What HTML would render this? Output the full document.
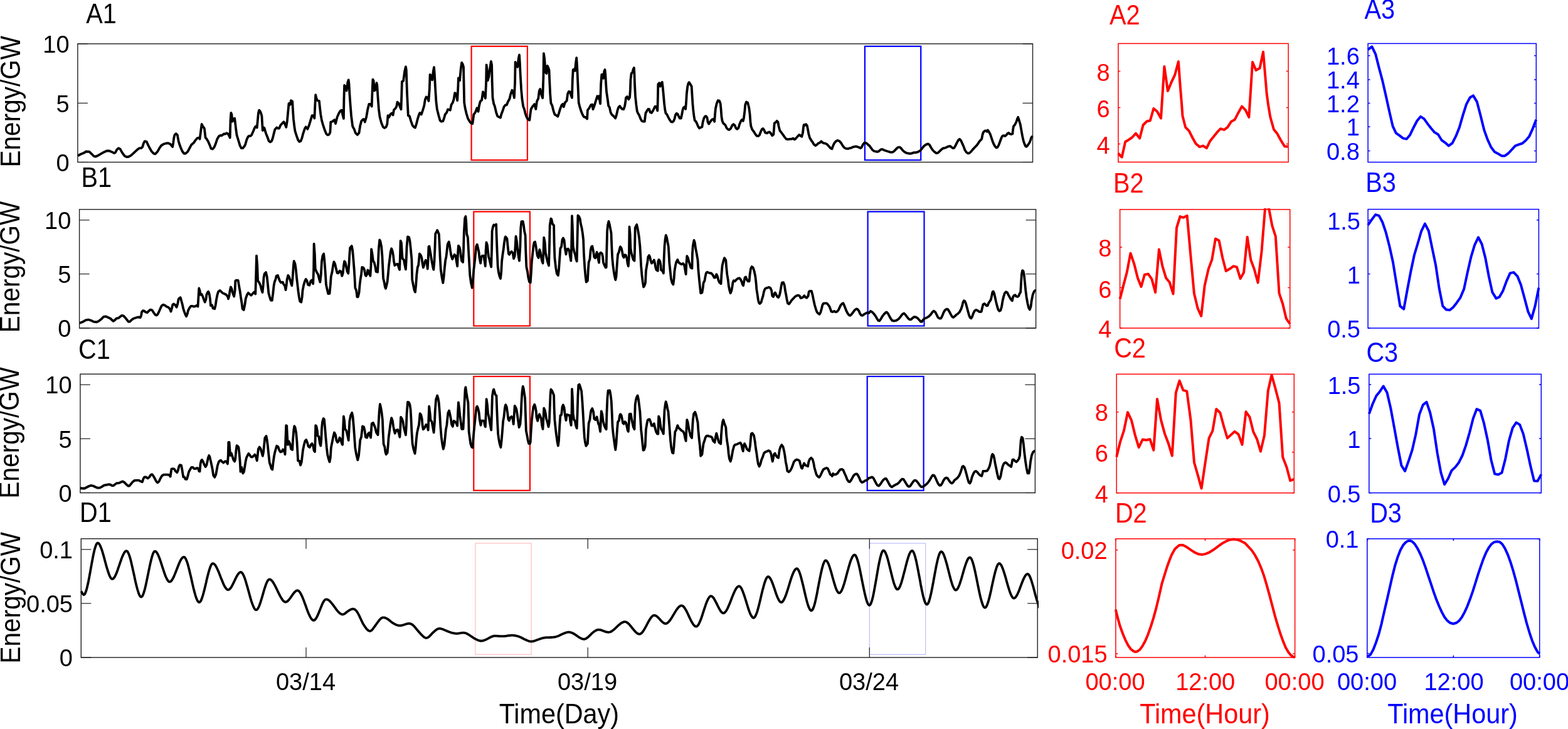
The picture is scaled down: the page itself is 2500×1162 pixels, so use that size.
<!DOCTYPE html>
<html lang="en"><head><meta charset="utf-8"><title>Energy time series</title>
<style>html,body{margin:0;padding:0;background:#fff;}body{width:2500px;height:1162px;overflow:hidden;}svg{display:block;font-family:"Liberation Sans",sans-serif;}</style>
</head><body>
<svg xmlns="http://www.w3.org/2000/svg" width="2500" height="1162" viewBox="0 0 2500 1162">
<rect x="0" y="0" width="2500" height="1162" fill="#ffffff"/>
<g id="panel-A1">
<clipPath id="clipA1"><rect x="122.10" y="68.00" width="1526.20" height="192.30"/></clipPath>
<rect x="751.6" y="73.8" width="89.30" height="181.40" fill="#ffffff" stroke="#ff0000" stroke-width="2.2"/>
<rect x="1378.9" y="73.8" width="89.30" height="181.40" fill="#ffffff" stroke="#0000ff" stroke-width="2.2"/>
<polyline points="124.0,248.3 128.8,245.8 133.1,244.1 137.4,241.5 142.5,241.9 146.0,245.3 149.4,248.8 152.0,249.6 155.5,248.4 160.6,245.3 165.8,242.4 170.1,240.5 174.4,240.5 177.8,241.9 182.1,244.1 183.9,243.1 186.4,238.4 189.0,236.2 191.6,237.6 195.0,243.6 198.5,248.4 201.1,250.0 204.5,250.0 208.8,247.9 214.0,243.1 219.1,238.4 222.1,236.2 225.2,236.2 227.2,234.1 229.0,228.1 230.7,225.2 233.8,225.9 235.5,229.8 238.1,235.0 241.5,241.0 245.0,244.8 247.5,245.3 251.0,241.9 254.4,235.9 257.0,232.1 260.5,229.8 264.8,228.5 268.2,228.1 271.6,229.8 275.1,234.1 276.3,227.3 277.2,220.4 278.5,214.9 280.6,213.1 282.8,215.2 284.6,224.7 285.8,229.0 288.0,235.0 290.6,241.0 293.2,244.5 295.7,244.8 299.2,241.9 302.6,235.5 305.2,230.7 308.7,227.8 312.1,222.9 314.7,220.0 317.3,219.5 318.5,221.7 319.8,211.8 321.6,198.0 323.3,201.1 325.9,204.9 327.6,219.5 329.3,221.2 331.9,225.5 334.5,231.6 336.5,236.7 338.8,237.6 341.4,235.0 343.9,229.0 346.5,221.2 349.1,216.9 351.7,215.7 353.4,216.1 356.9,213.5 359.4,213.5 361.5,212.1 363.7,213.5 365.5,216.9 366.7,219.5 367.5,191.1 368.4,179.9 369.4,182.5 370.6,193.7 372.3,190.2 374.1,188.5 374.9,194.5 376.3,206.6 377.5,215.2 380.1,223.8 382.7,232.4 384.9,236.2 387.0,236.2 389.6,233.3 391.3,229.8 393.5,222.1 395.6,217.8 397.3,216.6 399.0,216.9 401.1,215.2 404.2,208.3 405.9,204.0 407.6,201.4 409.7,203.5 411.1,189.4 411.9,180.8 413.1,175.6 414.9,177.7 416.2,180.8 417.4,185.1 418.8,208.0 420.0,203.2 421.4,204.0 424.0,212.6 426.6,219.0 428.6,224.7 430.9,226.4 433.1,224.7 434.8,220.4 436.9,211.8 438.3,206.6 441.2,203.2 442.9,204.5 445.2,204.5 447.2,199.7 449.8,196.8 452.4,194.2 454.5,198.0 456.3,202.8 457.9,192.8 459.6,174.8 460.5,164.9 462.7,166.7 463.9,160.1 466.2,161.5 467.0,175.6 467.9,189.4 469.3,201.4 470.5,209.2 473.0,216.9 475.1,222.9 477.3,225.9 479.6,224.7 481.3,220.4 483.4,212.6 486.0,204.9 487.7,202.3 490.3,205.7 492.8,199.7 495.4,191.1 497.5,184.2 499.7,184.2 501.4,188.5 502.3,168.7 503.2,151.2 504.4,156.7 506.1,160.1 508.9,161.0 510.1,172.2 511.3,182.5 513.0,192.0 515.2,199.7 517.8,207.5 520.4,213.5 522.6,215.2 524.7,214.3 526.4,210.9 527.3,194.5 529.9,193.7 533.3,191.1 535.0,197.1 537.6,186.8 540.2,180.8 542.8,176.5 545.0,175.6 546.2,182.5 547.9,189.0 548.4,158.4 549.1,136.0 550.8,138.6 552.6,144.6 554.3,131.7 555.7,127.4 556.5,134.3 557.4,149.8 558.6,167.0 560.0,184.2 562.2,201.4 564.6,205.7 566.8,211.8 569.9,214.9 572.5,211.8 574.2,200.6 576.3,192.8 578.9,190.2 580.6,190.2 581.8,194.5 584.1,186.8 586.3,173.9 588.4,165.8 590.9,165.8 592.7,169.6 593.5,148.1 594.4,126.6 595.6,129.1 597.0,144.6 598.7,142.9 600.4,132.2 601.3,136.0 602.5,155.0 603.9,173.9 605.6,186.8 608.2,196.3 610.7,202.3 613.0,204.0 615.6,202.3 617.3,198.0 618.5,184.2 620.2,186.8 622.8,181.6 624.9,180.4 626.6,183.4 628.0,175.3 630.5,172.7 632.3,169.6 633.5,162.7 635.7,164.4 637.8,170.4 639.5,174.2 640.3,151.5 640.9,130.0 643.1,129.1 645.2,113.6 646.9,106.4 647.8,111.9 648.3,127.4 649.0,148.1 650.0,168.7 650.8,184.2 652.9,185.1 655.2,192.8 657.6,199.7 659.8,202.3 662.0,203.5 663.8,198.0 665.5,191.1 667.5,184.2 669.3,179.9 671.8,182.5 674.1,175.6 676.2,168.7 677.9,158.4 679.6,154.4 681.7,155.8 683.4,161.0 684.8,142.0 685.6,118.8 687.3,120.5 689.1,127.4 690.8,113.6 692.0,107.1 693.0,120.5 694.2,142.9 695.4,161.8 696.8,173.9 699.4,184.2 701.6,192.0 703.4,193.7 706.3,193.2 708.0,188.5 709.7,182.5 712.3,179.1 714.0,174.4 716.6,174.8 717.8,175.6 719.5,167.3 721.8,163.6 723.5,158.4 725.2,148.1 727.4,149.8 729.2,160.1 730.4,137.7 730.9,124.3 733.0,128.3 734.7,110.2 736.1,99.9 737.8,102.5 739.0,106.8 739.5,130.9 740.2,163.6 741.6,172.2 743.6,180.8 745.9,188.5 748.5,193.2 751.0,196.3 753.3,197.1 754.5,189.4 755.3,182.5 757.9,179.1 760.5,172.2 762.6,177.7 763.9,168.7 765.7,161.8 768.2,159.3 770.0,146.3 771.7,149.8 773.9,156.7 775.1,130.9 775.6,103.3 776.9,113.6 777.7,128.3 779.4,122.2 781.5,106.8 782.9,97.8 784.1,103.3 784.6,129.1 785.5,155.8 787.2,165.3 788.9,169.6 791.1,179.1 793.2,185.1 795.3,186.3 797.9,187.7 799.2,182.5 801.5,176.5 803.5,170.4 805.8,167.3 807.8,167.3 810.1,161.8 812.5,157.5 814.2,149.8 816.4,143.8 818.2,148.1 819.9,155.8 821.1,130.9 821.6,99.0 823.3,103.3 825.1,106.8 826.8,93.0 828.0,87.5 828.8,99.9 829.7,118.8 831.1,142.9 832.5,158.4 834.2,169.6 835.9,173.9 837.6,180.8 839.3,185.9 841.7,190.2 844.3,191.4 845.4,182.5 846.6,173.9 849.2,169.6 852.1,166.1 854.3,173.9 856.0,161.8 858.3,156.7 859.8,144.6 861.2,142.0 862.9,149.8 865.2,156.3 866.4,122.2 866.9,85.2 868.1,93.0 869.8,115.4 871.5,117.1 872.7,105.0 874.1,107.6 875.5,111.9 876.3,130.9 877.2,149.8 878.4,164.4 880.5,168.7 882.4,176.5 884.4,182.5 887.0,183.9 889.3,185.6 891.0,180.8 893.0,173.9 895.3,167.9 897.3,165.8 898.7,170.4 900.8,163.6 903.7,160.5 905.1,149.8 906.8,146.0 908.9,146.3 910.3,151.5 912.0,155.8 912.8,127.4 913.7,111.1 915.4,110.2 916.8,112.8 918.0,100.7 919.2,92.1 920.2,106.8 921.4,134.3 922.7,163.6 924.4,170.4 926.6,177.3 928.7,182.5 930.9,186.3 933.5,186.8 936.1,189.4 936.9,175.6 939.5,172.2 942.1,167.3 944.3,166.7 945.5,174.2 947.8,167.9 949.9,161.0 952.4,153.2 954.5,157.5 955.0,153.2 957.1,165.3 958.1,134.3 959.3,118.8 961.0,118.5 962.2,124.8 963.3,113.6 964.5,111.1 965.3,118.8 966.2,134.3 967.0,146.3 968.8,158.4 970.1,168.4 971.9,171.3 973.6,179.1 975.3,182.5 978.2,185.1 981.2,188.5 982.9,183.4 984.6,175.6 986.3,170.8 988.2,169.1 990.3,172.2 992.0,173.9 994.2,174.2 996.0,169.6 997.2,162.7 998.0,155.8 1000.1,154.1 1002.3,158.4 1004.1,155.0 1004.9,142.9 1005.4,127.4 1006.6,117.1 1008.4,115.4 1009.7,110.2 1010.9,108.1 1011.5,118.8 1012.1,136.0 1013.0,153.2 1014.4,167.0 1015.8,177.3 1017.3,180.8 1019.0,183.4 1021.3,189.4 1023.3,192.8 1025.6,193.7 1027.8,193.7 1028.7,185.9 1029.4,180.4 1031.6,176.5 1033.3,173.9 1035.0,173.9 1036.8,179.1 1038.8,179.9 1041.1,176.5 1043.1,172.2 1044.5,169.6 1046.6,170.4 1048.3,176.5 1048.8,158.4 1049.3,134.3 1051.1,132.2 1052.8,137.7 1054.0,133.4 1055.7,130.9 1056.6,137.7 1057.9,151.5 1059.1,165.3 1060.3,174.8 1061.4,180.4 1063.4,182.5 1065.5,186.8 1067.8,191.1 1070.0,194.2 1072.1,194.5 1074.1,192.8 1075.5,189.4 1076.9,183.4 1078.6,180.8 1080.3,181.6 1082.0,185.1 1083.8,188.5 1085.8,188.5 1087.2,182.5 1088.4,175.6 1089.6,171.8 1091.8,170.1 1093.1,173.9 1094.1,161.8 1094.8,149.8 1096.2,137.7 1097.5,132.9 1098.7,131.2 1100.5,134.0 1102.7,137.7 1103.4,149.8 1104.4,165.3 1105.3,175.6 1106.5,185.1 1107.7,192.0 1109.6,193.7 1111.3,197.1 1113.0,201.4 1115.1,204.5 1117.2,203.2 1119.4,202.3 1120.6,194.5 1122.3,188.5 1124.0,185.6 1125.8,185.1 1127.5,187.7 1128.5,194.5 1130.2,197.6 1132.3,194.2 1134.9,190.8 1137.5,189.7 1139.2,193.7 1140.0,182.5 1140.9,173.0 1142.6,165.3 1144.7,160.1 1146.9,160.5 1148.7,165.3 1149.5,173.9 1150.4,185.9 1151.6,192.8 1153.0,196.3 1155.0,198.0 1156.7,199.7 1158.5,204.0 1160.7,206.3 1162.4,206.9 1165.0,204.9 1167.6,199.7 1169.3,198.0 1171.5,199.7 1173.3,204.0 1175.3,205.7 1177.4,204.0 1179.1,198.0 1181.4,192.8 1183.1,190.8 1184.8,192.8 1186.0,187.7 1187.4,176.5 1188.2,167.0 1190.0,162.4 1192.2,163.6 1194.3,172.2 1195.6,182.5 1196.5,194.5 1197.4,201.4 1199.4,206.6 1202.0,210.0 1204.6,214.3 1206.7,216.6 1208.9,216.9 1211.0,215.2 1212.9,210.0 1214.9,205.7 1216.6,204.9 1218.4,207.5 1220.1,211.4 1222.7,212.3 1224.9,210.9 1227.0,210.4 1229.0,212.6 1231.3,216.1 1233.3,214.3 1234.2,203.2 1234.7,196.3 1237.0,194.9 1238.7,192.8 1240.4,194.5 1241.6,201.4 1243.3,208.0 1245.9,211.4 1248.5,214.9 1251.1,218.6 1253.7,221.7 1256.2,222.1 1259.7,221.7 1262.3,221.7 1264.5,220.4 1266.6,222.4 1269.2,220.4 1271.7,217.4 1274.3,214.9 1276.6,216.6 1278.3,217.8 1280.0,211.8 1280.9,203.2 1281.7,198.8 1283.4,199.7 1285.2,198.0 1286.9,200.6 1288.1,206.6 1289.3,213.5 1291.0,219.5 1293.3,223.5 1295.8,226.9 1297.9,230.4 1300.1,232.1 1302.4,230.7 1304.4,228.6 1307.0,227.6 1309.3,225.2 1311.0,226.9 1313.0,228.1 1316.1,228.6 1319.1,230.4 1321.7,233.3 1324.2,236.2 1326.5,237.2 1328.2,232.4 1330.3,228.1 1332.8,225.2 1335.1,223.8 1338.0,224.7 1340.6,227.3 1343.2,231.6 1345.8,235.0 1348.3,236.7 1351.8,237.2 1354.4,236.2 1356.9,235.9 1359.5,234.5 1362.1,233.8 1364.7,233.3 1367.3,234.1 1369.9,235.0 1371.9,236.2 1373.6,235.0 1375.9,230.4 1378.1,227.6 1380.2,227.6 1382.8,229.3 1385.0,231.6 1385.7,231.6 1388.8,235.9 1391.4,239.3 1393.9,241.0 1396.5,241.5 1399.1,241.9 1401.7,240.7 1404.3,238.4 1406.8,237.9 1409.4,239.3 1412.9,240.5 1416.3,241.5 1419.8,242.7 1422.9,242.7 1425.8,240.7 1428.7,237.6 1431.5,235.0 1434.4,234.5 1436.6,236.2 1439.0,239.3 1441.8,241.9 1444.7,243.6 1448.2,244.5 1451.6,244.8 1454.5,244.1 1457.3,243.1 1460.2,243.1 1463.7,242.2 1467.1,240.2 1470.0,236.7 1473.1,232.8 1476.6,230.4 1479.7,229.3 1482.1,231.0 1484.3,235.0 1486.9,239.0 1490.0,242.2 1492.9,244.1 1495.5,243.6 1498.6,240.7 1501.5,237.9 1504.1,236.2 1506.7,235.9 1509.6,234.5 1512.4,233.3 1514.8,232.9 1517.0,234.5 1519.3,236.2 1521.3,235.9 1523.4,232.1 1525.6,227.6 1527.9,223.5 1529.9,221.7 1532.0,223.8 1534.2,228.6 1536.5,233.8 1538.5,239.3 1540.8,242.7 1543.4,244.5 1545.4,244.1 1548.0,241.9 1550.9,238.4 1554.0,235.0 1556.6,232.4 1558.8,229.8 1560.9,226.4 1563.0,223.8 1565.2,221.7 1566.4,215.2 1567.8,210.9 1569.9,208.7 1572.1,208.3 1573.8,209.7 1575.0,207.5 1576.7,210.0 1579.0,214.3 1580.7,219.5 1582.4,224.7 1584.1,229.0 1586.4,233.3 1588.5,235.5 1590.2,235.0 1592.2,231.6 1594.5,225.5 1596.7,219.5 1598.4,216.6 1600.5,216.1 1602.6,216.9 1604.8,214.9 1606.5,212.6 1608.2,211.8 1610.0,213.5 1612.2,214.0 1614.3,213.5 1615.1,206.6 1616.0,201.4 1618.1,198.8 1620.3,194.5 1622.0,189.4 1623.2,186.8 1624.6,191.1 1626.7,198.0 1628.4,207.5 1630.1,216.9 1631.8,224.7 1633.6,229.8 1635.3,233.3 1636.6,233.8 1639.2,230.7 1641.5,227.3 1643.2,222.9 1644.4,219.0 1646.5,216.9" fill="none" stroke="#000000" stroke-width="3.8" stroke-linejoin="round" stroke-linecap="butt" clip-path="url(#clipA1)"/>
<rect x="123.9" y="69.8" width="1522.60" height="188.70" fill="none" stroke="#1f1f1f" stroke-width="1.4"/>
<line x1="123.90" y1="69.80" x2="139.90" y2="69.80" stroke="#1f1f1f" stroke-width="1.2"/>
<line x1="1630.50" y1="69.80" x2="1646.50" y2="69.80" stroke="#1f1f1f" stroke-width="1.2"/>
<text transform="translate(110.60,84.00)" font-size="38" fill="#000000" text-anchor="end">10</text>
<line x1="123.90" y1="164.40" x2="139.90" y2="164.40" stroke="#1f1f1f" stroke-width="1.2"/>
<line x1="1630.50" y1="164.40" x2="1646.50" y2="164.40" stroke="#1f1f1f" stroke-width="1.2"/>
<text transform="translate(110.60,178.60)" font-size="38" fill="#000000" text-anchor="end">5</text>
<line x1="123.90" y1="258.50" x2="139.90" y2="258.50" stroke="#1f1f1f" stroke-width="1.2"/>
<line x1="1630.50" y1="258.50" x2="1646.50" y2="258.50" stroke="#1f1f1f" stroke-width="1.2"/>
<text transform="translate(110.60,272.70)" font-size="38" fill="#000000" text-anchor="end">0</text>
<text transform="translate(137.20,36.60) scale(0.95,1.04)" font-size="41.8" fill="#000000" text-anchor="start">A1</text>
</g>
<g id="panel-A2">
<clipPath id="clipA2"><rect x="1781.10" y="67.60" width="274.80" height="192.60"/></clipPath>
<polyline points="1782.7,244.5 1788.7,250.5 1794.2,225.9 1799.4,222.9 1805.1,219.0 1810.9,212.6 1817.1,220.4 1822.6,199.2 1828.7,193.2 1833.8,192.3 1839.3,173.0 1845.0,177.7 1851.0,188.5 1856.4,105.9 1861.9,145.1 1867.4,131.7 1873.1,119.7 1878.9,98.1 1881.5,134.3 1884.3,168.7 1885.5,185.1 1890.1,202.8 1895.8,208.7 1901.3,219.5 1906.6,229.0 1912.7,234.1 1918.2,232.4 1923.8,236.2 1929.4,224.7 1935.0,217.8 1940.5,210.9 1946.0,205.2 1951.7,206.9 1957.2,202.8 1963.1,193.7 1968.6,190.8 1974.5,179.4 1980.1,169.6 1985.8,175.3 1991.3,186.8 1997.0,99.0 2002.5,111.9 2008.5,108.8 2014.0,82.7 2017.1,118.8 2019.7,149.8 2022.3,168.7 2025.4,186.8 2030.9,206.3 2036.4,213.1 2042.1,223.5 2048.1,233.3 2053.6,233.8" fill="none" stroke="#ff0000" stroke-width="4.0" stroke-linejoin="round" stroke-linecap="butt" clip-path="url(#clipA2)"/>
<rect x="1782.9" y="69.4" width="271.20" height="189.00" fill="none" stroke="#ff0000" stroke-width="1.5"/>
<line x1="1782.90" y1="113.50" x2="1786.30" y2="113.50" stroke="#ff0000" stroke-width="1.5"/>
<line x1="2050.70" y1="113.50" x2="2054.10" y2="113.50" stroke="#ff0000" stroke-width="1.5"/>
<text transform="translate(1769.60,128.70)" font-size="38" fill="#ff0000" text-anchor="end">8</text>
<line x1="1782.90" y1="171.50" x2="1786.30" y2="171.50" stroke="#ff0000" stroke-width="1.5"/>
<line x1="2050.70" y1="171.50" x2="2054.10" y2="171.50" stroke="#ff0000" stroke-width="1.5"/>
<text transform="translate(1769.60,186.70)" font-size="38" fill="#ff0000" text-anchor="end">6</text>
<line x1="1782.90" y1="229.50" x2="1786.30" y2="229.50" stroke="#ff0000" stroke-width="1.5"/>
<line x1="2050.70" y1="229.50" x2="2054.10" y2="229.50" stroke="#ff0000" stroke-width="1.5"/>
<text transform="translate(1769.60,245.30)" font-size="38" fill="#ff0000" text-anchor="end">4</text>
<text transform="translate(1769.10,39.30) scale(0.95,1.04)" font-size="41.8" fill="#ff0000" text-anchor="start">A2</text>
</g>
<g id="panel-A3">
<clipPath id="clipA3"><rect x="2179.30" y="67.60" width="271.80" height="192.70"/></clipPath>
<polyline points="2181.0,79.2 2187.4,74.4 2193.1,86.1 2198.8,108.5 2204.3,129.1 2209.8,153.2 2215.5,179.1 2220.6,201.1 2225.8,212.1 2231.5,216.1 2237.0,220.4 2242.7,221.6 2248.2,214.9 2253.8,203.2 2259.4,192.5 2265.0,185.9 2270.5,189.4 2276.0,197.1 2281.7,204.5 2287.2,210.9 2292.9,214.3 2298.6,223.5 2304.1,227.3 2309.8,232.4 2315.6,228.1 2321.3,216.9 2326.8,203.2 2332.5,183.4 2338.0,166.1 2343.7,155.5 2348.9,152.4 2354.9,162.4 2360.4,183.4 2366.1,206.6 2371.6,222.1 2377.3,234.5 2382.8,241.9 2388.5,245.0 2394.1,248.4 2399.3,248.4 2404.8,244.5 2410.5,238.4 2416.0,232.4 2421.5,230.4 2427.2,228.5 2432.3,224.3 2438.0,217.8 2443.5,205.7 2449.2,190.8" fill="none" stroke="#0000ff" stroke-width="4.0" stroke-linejoin="round" stroke-linecap="butt" clip-path="url(#clipA3)"/>
<rect x="2181.1" y="69.4" width="268.20" height="189.10" fill="none" stroke="#0000ff" stroke-width="1.5"/>
<line x1="2181.10" y1="88.70" x2="2184.50" y2="88.70" stroke="#0000ff" stroke-width="1.5"/>
<line x1="2445.90" y1="88.70" x2="2449.30" y2="88.70" stroke="#0000ff" stroke-width="1.5"/>
<text transform="translate(2167.80,103.10)" font-size="38" fill="#0000ff" text-anchor="end">1.6</text>
<line x1="2181.10" y1="127.00" x2="2184.50" y2="127.00" stroke="#0000ff" stroke-width="1.5"/>
<line x1="2445.90" y1="127.00" x2="2449.30" y2="127.00" stroke="#0000ff" stroke-width="1.5"/>
<text transform="translate(2167.80,141.40)" font-size="38" fill="#0000ff" text-anchor="end">1.4</text>
<line x1="2181.10" y1="164.50" x2="2184.50" y2="164.50" stroke="#0000ff" stroke-width="1.5"/>
<line x1="2445.90" y1="164.50" x2="2449.30" y2="164.50" stroke="#0000ff" stroke-width="1.5"/>
<text transform="translate(2167.80,178.90)" font-size="38" fill="#0000ff" text-anchor="end">1.2</text>
<line x1="2181.10" y1="202.00" x2="2184.50" y2="202.00" stroke="#0000ff" stroke-width="1.5"/>
<line x1="2445.90" y1="202.00" x2="2449.30" y2="202.00" stroke="#0000ff" stroke-width="1.5"/>
<text transform="translate(2167.80,216.40)" font-size="38" fill="#0000ff" text-anchor="end">1</text>
<line x1="2181.10" y1="240.50" x2="2184.50" y2="240.50" stroke="#0000ff" stroke-width="1.5"/>
<line x1="2445.90" y1="240.50" x2="2449.30" y2="240.50" stroke="#0000ff" stroke-width="1.5"/>
<text transform="translate(2167.80,254.90)" font-size="38" fill="#0000ff" text-anchor="end">0.8</text>
<text transform="translate(2175.40,29.50) scale(0.95,1.04)" font-size="41.8" fill="#0000ff" text-anchor="start">A3</text>
</g>
<g id="panel-B1">
<clipPath id="clipB1"><rect x="124.80" y="332.00" width="1528.60" height="192.80"/></clipPath>
<rect x="755.3" y="337.4" width="89.60" height="182.10" fill="#ffffff" stroke="#ff0000" stroke-width="2.2"/>
<rect x="1383.6" y="337.4" width="89.90" height="182.10" fill="#ffffff" stroke="#0000ff" stroke-width="2.2"/>
<polyline points="126.7,515.0 131.4,513.3 136.5,510.3 140.8,509.5 145.1,510.8 149.4,512.9 153.7,513.4 157.2,512.0 161.1,509.1 164.9,505.2 168.4,504.3 171.8,505.7 176.1,507.7 178.7,510.3 180.8,512.0 183.0,510.3 185.6,507.7 189.0,506.9 191.6,504.8 194.2,502.9 196.8,503.4 199.7,506.4 202.8,510.3 204.9,512.9 207.1,512.6 209.7,510.0 212.8,507.7 216.6,506.5 220.0,505.5 223.8,506.0 225.2,502.6 226.0,497.4 227.8,495.2 230.0,495.7 232.1,497.4 234.6,498.3 237.2,495.7 239.8,493.6 242.4,494.3 245.0,498.3 247.5,501.7 249.3,502.6 251.3,501.2 253.6,496.6 255.8,491.4 257.9,487.1 260.5,485.7 263.0,486.7 265.6,488.8 268.2,489.7 270.8,492.3 272.5,496.6 274.2,490.5 275.4,485.4 277.2,484.5 279.4,486.2 281.6,489.7 283.4,483.6 284.6,476.8 286.3,475.0 287.7,474.2 288.9,478.5 290.6,484.5 292.3,492.3 294.0,497.4 295.7,501.7 297.1,504.3 298.8,500.0 300.0,494.8 302.3,490.5 304.4,487.9 306.9,487.9 309.2,488.8 312.1,487.9 313.8,486.7 315.5,488.5 316.4,473.3 317.3,459.5 318.5,463.0 319.8,469.9 321.6,469.0 323.3,472.5 325.0,477.6 326.7,481.6 328.5,476.8 329.3,469.9 331.0,466.1 332.2,464.7 333.6,468.2 335.0,476.8 335.9,487.1 337.9,486.2 339.6,491.4 342.2,492.3 343.6,487.1 344.8,478.5 346.5,469.9 348.2,464.7 350.5,463.0 352.6,464.7 355.1,467.3 357.7,468.2 360.3,469.5 362.9,472.5 364.1,476.4 365.5,470.7 366.7,463.0 368.0,457.5 369.4,460.4 371.1,467.3 373.2,472.5 374.6,463.0 375.3,447.5 377.5,446.6 379.7,447.2 381.0,455.2 382.7,464.7 383.9,473.3 385.3,481.9 386.6,492.3 388.7,494.0 390.4,485.4 391.8,475.9 393.9,469.9 395.9,466.8 398.2,469.0 400.4,470.7 402.5,468.5 405.1,465.6 407.3,468.5 408.2,437.2 409.0,407.6 410.2,423.4 411.1,447.5 413.1,450.1 415.4,455.2 417.1,462.1 418.5,466.1 419.7,454.4 420.5,442.3 421.7,436.3 424.0,434.1 425.7,441.5 426.9,452.7 428.3,467.3 430.0,473.3 431.7,478.5 433.8,478.8 435.2,468.2 436.6,455.2 437.8,449.2 439.5,444.9 440.7,439.8 442.9,438.9 444.6,444.1 446.4,448.4 448.1,450.6 450.7,449.6 452.4,453.5 454.1,455.2 455.5,462.1 456.7,454.4 457.6,445.8 459.3,438.9 460.7,440.6 462.4,445.8 464.1,451.8 465.3,455.2 466.5,444.1 467.9,423.4 468.7,416.2 470.5,420.8 471.7,428.6 473.0,442.3 474.4,454.4 475.6,464.7 476.8,473.3 478.2,480.2 480.3,481.6 481.7,473.3 482.5,463.0 484.2,454.4 486.0,448.4 487.7,444.9 489.4,447.5 491.1,454.0 493.4,454.7 495.1,448.4 497.1,446.6 499.2,452.3 500.1,430.3 500.6,388.6 501.8,404.5 502.7,428.6 504.9,433.7 507.1,437.2 509.2,445.8 510.4,449.6 511.8,437.2 513.0,416.5 514.4,407.9 516.1,404.5 517.3,414.8 518.7,433.7 519.9,453.5 521.6,461.3 523.3,468.2 525.5,467.8 526.8,454.4 527.8,440.6 529.5,433.7 531.2,422.5 532.4,417.4 534.2,420.8 535.9,428.6 537.6,435.1 539.3,435.4 541.6,431.7 543.6,432.9 545.0,438.9 545.3,439.8 546.7,435.4 547.9,424.3 549.1,416.5 550.5,418.2 551.9,424.3 553.6,432.9 555.3,435.8 556.5,420.0 557.4,404.5 558.2,395.0 560.8,392.1 562.2,399.3 563.4,413.1 564.6,428.6 565.6,444.1 566.3,458.7 568.1,463.0 569.4,473.3 570.8,473.3 572.5,466.4 573.7,452.7 574.6,445.8 576.0,437.2 577.2,426.0 579.4,426.5 581.1,430.3 582.3,438.0 583.5,439.8 585.3,437.2 586.3,430.3 588.0,432.0 589.2,437.2 590.4,439.8 591.5,423.4 592.1,397.2 593.5,404.5 594.9,415.7 596.6,418.2 598.3,425.1 599.6,432.9 602.1,433.7 603.0,416.5 603.9,395.9 605.2,382.4 606.4,384.7 608.2,393.3 609.4,407.9 610.4,428.6 611.1,444.1 612.5,449.2 613.8,457.0 615.0,459.9 616.2,455.2 617.6,449.2 618.8,437.2 619.9,424.3 621.1,414.8 622.8,401.0 624.2,396.2 625.9,401.0 627.1,407.9 628.0,416.5 629.3,423.1 631.4,421.3 634.0,420.8 635.7,426.0 637.1,429.9 637.9,409.6 638.6,383.8 640.0,387.2 640.9,402.7 641.7,412.2 643.8,413.9 645.2,421.7 646.9,429.4 647.8,413.1 648.6,392.4 650.0,377.3 652.1,378.3 653.4,383.8 654.6,394.1 656.4,413.1 657.2,445.8 658.9,454.4 660.7,463.0 662.0,465.6 663.2,454.4 664.4,437.2 665.8,426.0 667.2,422.5 668.1,413.1 668.9,404.5 671.0,407.0 672.4,411.3 673.6,420.0 674.8,426.5 676.2,422.5 677.5,417.4 678.7,414.8 680.5,418.2 681.7,428.6 682.7,413.1 683.4,393.3 684.4,392.4 685.6,399.3 686.8,406.2 687.9,413.1 689.1,420.0 690.3,426.0 691.3,429.9 692.5,416.5 693.4,395.9 694.2,372.6 695.9,369.7 697.2,366.9 698.5,370.0 699.9,373.5 700.6,387.2 701.6,409.6 702.8,430.3 704.6,442.3 706.3,450.9 707.5,442.3 708.9,426.8 710.2,414.8 711.4,409.6 712.6,399.3 713.7,389.3 715.7,385.5 717.1,392.4 718.3,401.0 719.5,407.9 721.3,413.1 723.0,408.8 724.7,405.8 726.4,407.6 727.8,416.5 729.2,424.3 730.0,404.5 730.9,391.6 732.6,394.1 733.8,399.3 734.7,407.9 736.1,415.7 738.1,417.9 739.0,399.3 739.8,370.0 741.2,347.7 742.4,345.1 743.3,354.5 744.1,372.6 745.9,378.6 747.1,401.0 748.5,425.1 749.3,438.9 751.0,450.9 752.8,458.7 754.0,447.5 755.3,430.3 757.1,414.8 758.3,402.7 759.3,392.4 760.8,389.8 762.2,395.9 763.4,401.0 764.5,411.3 766.2,419.6 767.4,409.6 769.1,407.6 771.2,407.6 772.6,416.5 773.8,424.3 774.6,399.3 775.5,386.4 776.9,390.7 778.1,401.0 779.1,409.6 780.3,413.1 782.0,420.8 783.2,425.5 784.1,395.9 784.6,368.3 786.0,361.4 787.2,358.5 789.4,359.4 791.1,357.6 791.8,378.6 792.7,402.7 793.7,425.1 794.9,433.7 796.3,439.8 798.0,444.1 799.2,433.7 800.1,416.5 801.5,405.3 802.7,397.6 803.9,387.2 805.3,378.6 806.1,377.3 808.4,380.4 809.6,392.4 810.9,404.5 812.1,405.8 813.9,402.4 815.6,401.0 817.7,403.6 819.0,412.2 820.7,407.9 821.6,392.4 822.5,376.6 823.8,383.8 825.1,397.6 826.8,409.6 828.0,415.7 829.4,392.4 830.2,364.0 831.4,353.2 833.7,352.8 834.9,358.8 835.9,367.5 837.6,375.2 838.3,401.0 839.3,425.1 841.1,433.7 842.3,442.3 844.0,449.2 845.7,450.6 846.9,433.7 847.9,416.5 849.2,404.5 850.5,392.4 851.7,386.4 853.1,385.5 854.3,391.6 855.7,401.0 856.9,407.9 858.6,411.0 859.5,402.7 860.3,397.9 861.7,402.7 862.9,409.6 864.1,415.7 865.5,419.6 866.4,404.5 867.2,378.6 868.6,385.5 869.8,402.7 871.5,411.3 873.3,418.2 875.0,423.4 875.8,399.3 876.7,358.8 878.4,348.5 879.3,349.4 881.0,357.1 883.1,359.4 883.6,387.2 884.4,411.3 886.2,426.8 887.9,436.3 889.9,438.9 891.0,430.3 892.2,413.1 893.4,395.9 895.1,393.3 896.5,382.1 897.9,379.5 899.6,382.9 900.8,395.9 902.5,405.3 903.7,397.2 906.0,396.7 907.7,400.2 908.9,407.9 910.3,415.7 911.1,395.9 912.0,344.2 912.8,361.4 913.7,392.4 915.4,401.0 917.1,406.2 918.5,413.1 919.7,416.5 920.6,378.6 921.4,343.4 923.2,345.1 924.9,349.4 925.8,356.3 927.5,363.1 928.9,371.8 930.1,382.1 930.9,404.5 932.3,426.8 933.5,440.6 934.7,449.6 936.9,447.5 937.8,430.3 938.7,418.2 940.4,413.1 941.6,399.3 943.0,393.3 944.3,392.4 946.1,401.0 947.3,409.6 949.0,411.3 950.2,407.9 951.6,401.9 953.0,409.6 955.0,418.6 955.9,404.5 957.6,402.7 959.8,404.1 961.0,408.8 961.9,418.2 963.6,422.5 965.7,426.5 966.7,426.0 967.4,395.9 968.1,368.3 969.1,358.8 970.5,352.8 971.9,358.0 973.1,364.0 974.5,371.8 975.3,392.4 976.2,411.3 977.4,423.4 978.8,433.7 980.0,440.6 981.3,446.1 982.5,440.6 983.4,426.8 984.3,414.8 985.1,405.3 986.8,401.9 988.1,395.9 989.1,393.3 990.8,395.9 992.0,401.0 993.2,407.9 994.6,410.5 996.3,406.2 998.0,407.0 999.4,411.3 1000.6,420.0 1001.8,424.3 1002.9,409.6 1003.5,361.4 1004.6,373.5 1005.4,395.9 1006.6,402.7 1008.4,409.6 1009.7,413.9 1011.5,415.7 1012.1,395.9 1012.7,363.1 1013.9,360.6 1015.2,358.0 1016.6,364.0 1017.8,370.9 1019.0,378.6 1020.4,392.4 1021.3,407.9 1022.1,423.4 1023.3,437.2 1024.7,449.2 1026.1,457.5 1027.6,455.2 1029.0,450.9 1029.9,432.0 1031.3,423.4 1032.5,416.5 1033.3,409.6 1035.0,407.0 1036.2,409.6 1037.6,415.7 1039.0,419.6 1041.1,417.4 1042.8,414.4 1044.2,420.0 1045.4,426.8 1046.6,430.3 1048.8,431.7 1049.3,416.5 1050.5,413.9 1052.3,416.5 1053.5,423.4 1054.0,430.3 1056.2,431.7 1057.9,435.4 1058.6,413.1 1059.5,392.4 1060.5,382.1 1061.7,374.9 1063.1,378.6 1064.3,385.5 1065.7,392.4 1066.5,404.5 1067.2,418.2 1068.6,432.0 1070.0,444.9 1071.7,450.9 1073.4,453.5 1074.6,444.1 1075.5,432.0 1076.9,423.4 1078.1,418.2 1080.3,413.9 1082.0,418.2 1084.1,420.0 1086.7,421.3 1089.3,420.0 1091.0,422.5 1092.4,430.3 1093.6,437.2 1094.4,420.0 1095.3,408.2 1097.0,411.3 1098.2,416.5 1099.9,421.7 1101.3,426.5 1103.4,427.7 1103.9,404.5 1104.8,391.6 1106.5,382.9 1107.9,387.2 1109.1,395.9 1110.8,404.5 1112.5,414.8 1113.4,430.3 1114.7,444.1 1115.9,456.1 1117.2,467.3 1119.4,466.4 1120.6,459.5 1121.6,450.9 1123.4,447.5 1124.6,440.6 1125.8,435.4 1127.5,433.7 1129.7,434.6 1131.4,435.4 1134.0,435.4 1136.6,438.5 1138.8,442.7 1140.6,442.3 1142.3,437.2 1144.0,440.6 1145.2,445.8 1146.9,450.1 1149.5,452.3 1150.4,437.2 1151.6,423.4 1153.3,416.2 1155.0,411.3 1157.3,414.8 1158.1,425.1 1159.3,437.2 1160.7,445.8 1161.9,456.1 1163.3,463.0 1164.7,467.3 1166.4,463.0 1167.6,456.1 1168.5,450.1 1169.8,447.2 1171.9,448.4 1174.0,445.8 1176.2,444.1 1178.8,443.2 1180.8,445.4 1182.6,449.2 1183.9,453.5 1185.1,455.2 1186.5,447.5 1187.7,442.3 1189.1,441.5 1190.8,445.8 1192.6,448.4 1194.6,448.4 1195.6,437.2 1196.9,428.6 1198.6,425.1 1200.8,426.8 1202.5,432.0 1204.3,440.6 1205.5,450.9 1206.3,461.3 1207.7,469.9 1208.9,478.5 1210.1,482.8 1211.5,484.0 1213.6,481.9 1214.9,476.8 1216.6,471.6 1218.0,464.7 1219.7,460.4 1221.8,459.2 1223.9,458.7 1226.1,457.8 1228.4,459.2 1230.1,463.0 1231.3,471.6 1233.0,473.0 1234.7,468.2 1235.9,466.4 1237.7,469.9 1239.4,473.0 1241.1,474.2 1242.8,470.7 1244.2,464.7 1245.6,456.1 1246.8,450.6 1249.0,450.1 1250.7,454.4 1251.9,463.0 1253.3,469.9 1254.5,476.8 1255.9,483.3 1258.0,484.5 1260.0,481.9 1262.3,478.5 1264.8,475.9 1267.4,473.0 1270.0,471.3 1272.6,470.7 1274.8,471.6 1276.6,475.0 1278.6,474.7 1280.7,473.3 1282.4,471.3 1284.1,473.7 1286.4,474.7 1288.6,471.6 1289.8,464.7 1292.0,463.8 1293.8,463.8 1295.5,469.9 1297.2,478.5 1298.9,486.2 1300.7,492.3 1302.4,497.1 1304.4,499.5 1306.5,500.9 1308.2,498.3 1309.9,492.3 1311.3,486.2 1313.0,483.6 1315.6,483.3 1317.9,483.3 1319.9,485.0 1322.5,488.8 1324.2,493.1 1325.4,496.6 1327.7,497.1 1329.9,496.0 1332.3,497.4 1334.6,496.6 1336.8,494.3 1338.9,489.7 1340.6,486.2 1342.7,484.0 1344.4,483.3 1345.8,486.2 1347.5,490.5 1349.5,495.7 1351.8,500.0 1354.0,502.6 1355.7,502.9 1357.8,500.9 1360.4,497.4 1363.0,494.0 1365.5,492.3 1367.3,493.1 1369.5,495.7 1371.2,500.0 1373.3,502.6 1375.0,502.9 1377.6,501.2 1380.2,499.5 1382.8,498.3 1385.0,499.1 1387.9,496.0 1390.5,497.4 1393.1,500.0 1395.7,503.4 1398.2,507.7 1400.5,511.2 1402.2,511.5 1404.3,508.6 1406.8,504.3 1409.4,500.9 1412.0,498.3 1413.7,497.4 1416.0,500.0 1418.0,504.0 1420.1,507.7 1422.3,510.8 1424.9,511.5 1428.0,511.2 1430.9,509.8 1433.5,507.7 1436.1,504.3 1438.7,500.9 1441.3,499.5 1443.0,500.9 1445.6,504.3 1448.2,507.7 1450.7,509.5 1452.8,509.1 1455.0,506.9 1457.6,505.2 1460.2,505.5 1462.8,506.9 1465.4,509.8 1468.0,512.6 1469.7,512.9 1471.4,510.3 1474.0,507.7 1477.4,506.5 1480.9,504.3 1484.3,500.9 1486.9,497.1 1489.0,495.7 1491.2,497.4 1493.4,501.7 1495.5,506.0 1498.1,507.7 1500.3,507.4 1502.4,503.4 1504.4,498.3 1506.7,494.3 1509.3,492.6 1511.3,493.1 1513.6,496.6 1515.8,500.9 1517.9,504.6 1519.9,506.0 1522.2,504.3 1524.8,501.7 1527.3,500.0 1529.9,497.4 1532.5,492.3 1534.2,487.1 1535.4,481.9 1536.8,479.3 1538.5,480.2 1539.9,483.6 1541.6,489.7 1543.4,496.6 1545.1,502.6 1546.8,506.4 1548.5,507.4 1550.2,504.3 1552.0,499.1 1554.0,495.4 1556.1,494.0 1558.3,494.8 1560.6,496.6 1563.0,497.1 1564.7,496.6 1566.1,490.5 1567.4,485.4 1569.5,484.0 1571.2,485.4 1573.0,487.4 1574.7,487.1 1576.1,483.3 1578.1,480.2 1579.8,477.6 1581.2,471.6 1582.4,465.6 1583.6,464.4 1585.0,467.3 1586.4,473.3 1588.1,481.1 1589.8,487.9 1591.5,493.6 1593.3,495.7 1595.3,494.8 1597.1,488.8 1598.4,480.2 1600.2,472.5 1601.9,467.3 1603.9,465.2 1606.0,466.4 1607.7,469.9 1610.0,474.2 1612.2,477.6 1613.9,479.3 1615.1,473.3 1616.9,470.7 1618.6,470.2 1620.3,472.5 1622.5,473.0 1624.3,471.6 1625.5,468.2 1627.2,465.6 1628.0,450.9 1628.9,437.2 1630.1,431.1 1631.5,432.0 1632.9,438.9 1634.1,450.9 1635.3,463.0 1636.6,473.3 1638.4,483.6 1640.1,490.5 1641.8,493.6 1643.5,488.8 1644.9,478.5 1646.6,469.9 1648.7,464.7 1650.4,463.0 1651.6,463.8" fill="none" stroke="#000000" stroke-width="3.8" stroke-linejoin="round" stroke-linecap="butt" clip-path="url(#clipB1)"/>
<rect x="126.6" y="333.8" width="1525.00" height="189.20" fill="none" stroke="#1f1f1f" stroke-width="1.4"/>
<line x1="126.60" y1="350.80" x2="142.60" y2="350.80" stroke="#1f1f1f" stroke-width="1.2"/>
<line x1="1635.60" y1="350.80" x2="1651.60" y2="350.80" stroke="#1f1f1f" stroke-width="1.2"/>
<text transform="translate(113.30,365.00)" font-size="38" fill="#000000" text-anchor="end">10</text>
<line x1="126.60" y1="436.70" x2="142.60" y2="436.70" stroke="#1f1f1f" stroke-width="1.2"/>
<line x1="1635.60" y1="436.70" x2="1651.60" y2="436.70" stroke="#1f1f1f" stroke-width="1.2"/>
<text transform="translate(113.30,450.90)" font-size="38" fill="#000000" text-anchor="end">5</text>
<line x1="126.60" y1="523.00" x2="142.60" y2="523.00" stroke="#1f1f1f" stroke-width="1.2"/>
<line x1="1635.60" y1="523.00" x2="1651.60" y2="523.00" stroke="#1f1f1f" stroke-width="1.2"/>
<text transform="translate(113.30,537.20)" font-size="38" fill="#000000" text-anchor="end">0</text>
<text transform="translate(129.50,297.90) scale(0.95,1.04)" font-size="41.8" fill="#000000" text-anchor="start">B1</text>
</g>
<g id="panel-B2">
<clipPath id="clipB2"><rect x="1783.80" y="332.10" width="274.70" height="192.70"/></clipPath>
<polyline points="1785.6,476.8 1791.3,454.4 1796.8,433.7 1802.5,403.6 1808.3,420.8 1814.0,443.2 1819.5,457.0 1824.9,437.7 1830.7,436.7 1836.4,444.9 1842.1,466.1 1847.9,397.6 1853.6,425.1 1859.1,443.2 1864.8,450.1 1870.5,468.5 1876.0,363.1 1881.5,345.1 1886.8,346.8 1892.7,343.9 1898.4,407.9 1903.9,467.8 1909.6,491.4 1915.2,503.8 1920.7,455.2 1926.8,428.6 1932.3,413.9 1938.0,380.4 1943.6,383.5 1949.1,410.5 1954.7,432.0 1960.7,428.6 1966.4,424.3 1971.9,425.6 1977.6,444.1 1983.1,434.2 1988.7,377.8 1994.4,414.8 1999.9,429.4 2005.6,450.6 2011.5,401.0 2017.1,331.3 2020.6,328.7 2023.2,333.0 2028.3,359.7 2033.8,376.9 2039.5,467.3 2045.2,484.5 2050.7,507.7 2056.7,516.4" fill="none" stroke="#ff0000" stroke-width="4.0" stroke-linejoin="round" stroke-linecap="butt" clip-path="url(#clipB2)"/>
<rect x="1785.6" y="333.9" width="271.10" height="189.10" fill="none" stroke="#ff0000" stroke-width="1.5"/>
<line x1="1785.60" y1="394.00" x2="1789.00" y2="394.00" stroke="#ff0000" stroke-width="1.5"/>
<line x1="2053.30" y1="394.00" x2="2056.70" y2="394.00" stroke="#ff0000" stroke-width="1.5"/>
<text transform="translate(1772.30,408.90)" font-size="38" fill="#ff0000" text-anchor="end">8</text>
<line x1="1785.60" y1="458.50" x2="1789.00" y2="458.50" stroke="#ff0000" stroke-width="1.5"/>
<line x1="2053.30" y1="458.50" x2="2056.70" y2="458.50" stroke="#ff0000" stroke-width="1.5"/>
<text transform="translate(1772.30,474.50)" font-size="38" fill="#ff0000" text-anchor="end">6</text>
<line x1="1785.60" y1="523.00" x2="1789.00" y2="523.00" stroke="#ff0000" stroke-width="1.5"/>
<line x1="2053.30" y1="523.00" x2="2056.70" y2="523.00" stroke="#ff0000" stroke-width="1.5"/>
<text transform="translate(1772.30,538.20)" font-size="38" fill="#ff0000" text-anchor="end">4</text>
<text transform="translate(1774.90,307.30) scale(0.95,1.04)" font-size="41.8" fill="#ff0000" text-anchor="start">B2</text>
</g>
<g id="panel-B3">
<clipPath id="clipB3"><rect x="2179.30" y="331.80" width="275.90" height="193.00"/></clipPath>
<polyline points="2181.0,358.8 2187.1,350.2 2193.1,342.1 2198.8,343.9 2204.3,354.5 2209.8,370.9 2215.5,393.3 2221.0,418.2 2226.6,452.7 2232.3,487.9 2238.2,492.6 2243.9,461.3 2249.5,432.0 2255.0,406.2 2260.7,387.2 2266.2,368.3 2271.9,356.6 2277.8,368.0 2283.5,395.9 2289.1,422.5 2294.6,459.5 2300.3,487.9 2305.8,493.5 2311.5,494.3 2317.0,489.7 2322.7,482.4 2328.2,474.7 2334.2,460.4 2339.7,434.6 2345.4,409.6 2351.1,390.7 2357.0,378.3 2362.6,389.0 2368.3,411.3 2373.8,440.6 2379.3,465.6 2385.4,475.6 2390.7,473.3 2396.2,463.8 2401.9,448.4 2407.7,435.4 2413.4,434.1 2419.4,440.3 2424.9,454.0 2430.6,475.0 2436.3,496.6 2441.8,508.1 2447.5,487.9 2453.4,458.7" fill="none" stroke="#0000ff" stroke-width="4.0" stroke-linejoin="round" stroke-linecap="butt" clip-path="url(#clipB3)"/>
<rect x="2181.1" y="333.6" width="272.30" height="189.40" fill="none" stroke="#0000ff" stroke-width="1.5"/>
<line x1="2181.10" y1="350.80" x2="2184.50" y2="350.80" stroke="#0000ff" stroke-width="1.5"/>
<line x1="2450.00" y1="350.80" x2="2453.40" y2="350.80" stroke="#0000ff" stroke-width="1.5"/>
<text transform="translate(2169.00,366.00)" font-size="38" fill="#0000ff" text-anchor="end">1.5</text>
<line x1="2181.10" y1="436.60" x2="2184.50" y2="436.60" stroke="#0000ff" stroke-width="1.5"/>
<line x1="2450.00" y1="436.60" x2="2453.40" y2="436.60" stroke="#0000ff" stroke-width="1.5"/>
<text transform="translate(2169.00,452.40)" font-size="38" fill="#0000ff" text-anchor="end">1</text>
<line x1="2181.10" y1="523.00" x2="2184.50" y2="523.00" stroke="#0000ff" stroke-width="1.5"/>
<line x1="2450.00" y1="523.00" x2="2453.40" y2="523.00" stroke="#0000ff" stroke-width="1.5"/>
<text transform="translate(2169.00,538.20)" font-size="38" fill="#0000ff" text-anchor="end">0.5</text>
<text transform="translate(2177.30,306.00) scale(0.95,1.04)" font-size="41.8" fill="#0000ff" text-anchor="start">B3</text>
</g>
<g id="panel-C1">
<clipPath id="clipC1"><rect x="126.10" y="594.50" width="1526.10" height="192.80"/></clipPath>
<rect x="755.3" y="600.0" width="89.60" height="181.80" fill="#ffffff" stroke="#ff0000" stroke-width="2.2"/>
<rect x="1382.7" y="600.0" width="89.90" height="181.80" fill="#ffffff" stroke="#0000ff" stroke-width="2.2"/>
<polyline points="127.9,778.0 131.4,778.5 134.8,778.5 138.2,776.8 141.7,775.0 145.1,773.8 148.6,774.5 152.0,776.3 155.5,777.6 158.9,777.6 162.3,775.9 165.8,773.7 169.7,772.8 173.2,772.1 176.1,772.5 178.7,774.2 181.3,773.8 183.9,771.6 186.4,770.2 189.9,769.9 193.3,768.2 195.6,767.3 198.5,769.0 201.4,772.1 204.2,774.5 206.2,774.5 208.8,771.6 211.4,768.2 214.5,765.9 217.9,765.6 221.4,765.6 224.3,767.3 226.9,768.2 228.6,763.0 230.3,760.4 232.9,760.4 235.5,762.5 238.1,760.4 240.3,757.0 242.4,756.1 244.4,758.4 246.7,762.5 248.9,767.0 251.3,769.4 253.6,767.3 255.8,762.5 258.2,758.4 261.0,756.6 263.9,756.6 266.8,756.6 269.9,757.0 271.6,759.6 272.5,753.5 273.4,747.5 275.4,747.0 277.7,747.5 279.9,750.9 282.3,753.2 284.0,749.2 285.4,743.2 286.8,741.1 288.9,741.5 290.2,747.5 291.4,755.3 292.3,760.4 294.0,760.4 295.7,763.9 297.8,763.9 299.2,759.6 300.9,752.7 303.0,748.4 305.2,744.9 307.4,744.9 309.5,747.0 312.1,747.0 314.3,745.8 316.1,747.0 317.3,750.9 318.5,751.5 319.5,739.8 320.7,734.6 321.9,732.9 323.6,735.5 325.4,739.8 327.6,744.1 329.3,741.5 330.5,736.3 331.9,729.4 333.3,726.0 334.5,728.6 335.9,734.6 337.4,741.5 338.8,748.4 340.2,757.8 342.2,760.8 344.3,756.1 345.7,748.4 347.0,741.5 348.8,736.3 350.5,734.3 352.2,733.7 354.3,736.3 356.3,737.7 358.6,735.5 360.8,735.5 362.9,739.4 363.7,727.7 364.3,705.0 365.5,705.0 366.3,715.7 367.2,726.0 368.9,722.5 370.6,727.7 372.3,733.2 374.1,735.5 375.3,731.2 376.3,719.1 377.5,710.2 379.2,711.4 380.4,713.1 381.5,722.5 382.7,736.3 383.5,751.8 385.3,744.9 387.3,754.4 389.0,751.8 390.4,743.2 391.8,734.6 393.0,729.4 394.7,726.0 396.4,722.9 398.2,725.1 399.9,728.1 402.1,728.6 404.2,726.8 406.3,724.6 408.0,727.7 409.7,734.3 410.7,726.0 411.9,715.7 413.7,712.6 415.4,714.8 417.1,720.8 418.8,726.8 420.0,720.8 421.4,707.1 422.3,698.1 424.5,695.0 425.7,701.0 426.9,710.5 428.3,724.3 429.7,737.2 431.4,742.3 432.6,746.6 434.3,748.4 435.5,738.0 436.9,727.7 438.3,720.8 440.0,714.8 441.2,710.8 443.4,712.2 445.2,717.4 447.2,720.5 449.3,720.0 451.0,716.5 452.7,717.0 454.5,724.3 455.3,701.9 456.2,678.1 457.2,678.7 457.9,693.3 458.9,708.8 460.7,703.6 462.4,707.1 464.1,715.7 466.2,717.0 467.0,701.9 468.2,686.4 469.3,679.2 470.5,681.2 472.2,689.8 473.4,703.6 474.4,720.8 475.1,734.3 477.3,734.6 479.1,741.5 480.8,736.3 482.0,726.0 483.0,717.4 484.8,708.8 486.5,702.8 488.2,701.0 489.9,705.3 491.6,711.4 493.7,713.1 495.8,708.8 497.5,707.1 499.2,710.5 500.6,718.2 502.0,720.0 502.7,700.2 503.2,678.1 504.4,679.5 505.8,686.4 506.6,694.7 508.3,695.9 510.1,707.1 511.3,710.5 512.3,700.2 513.0,683.0 514.0,672.6 515.7,667.1 516.9,668.3 518.1,681.2 519.5,698.4 520.9,713.9 522.1,724.3 523.8,731.2 525.5,736.3 526.8,729.4 527.8,713.9 529.5,705.3 531.2,696.7 533.0,689.5 535.0,693.3 536.4,701.9 538.1,705.0 539.8,703.6 541.5,697.6 543.3,700.2 545.0,707.1 546.2,708.8 547.0,684.7 547.9,663.7 549.1,670.9 550.1,683.8 552.2,686.4 553.9,693.3 555.7,701.9 556.5,686.4 557.4,670.9 559.1,662.3 561.2,658.0 562.5,664.0 563.9,679.5 565.1,696.7 566.3,713.9 568.1,724.3 570.3,733.2 572.0,726.0 573.2,713.9 574.2,701.9 576.0,696.7 577.2,686.4 578.0,679.5 580.1,680.4 581.5,686.4 582.9,696.7 585.3,697.6 586.6,691.6 588.7,689.8 590.1,695.0 591.1,697.6 592.1,683.0 592.7,675.2 594.9,674.0 596.6,677.8 598.3,682.1 600.1,689.8 602.5,693.3 603.5,676.1 604.7,655.4 605.9,644.2 607.3,650.2 608.7,658.9 609.9,669.2 610.7,689.8 611.6,707.9 613.3,712.2 614.5,720.8 615.6,724.3 617.6,721.7 618.8,708.8 619.7,696.7 621.1,686.4 622.4,676.1 624.2,666.1 625.9,670.9 627.1,679.5 628.3,685.5 629.7,690.7 631.7,685.5 634.0,685.0 635.7,689.8 637.4,696.7 638.3,683.0 639.1,664.9 640.9,667.5 642.6,672.6 643.8,681.2 645.2,686.4 646.9,693.3 647.8,679.5 648.6,658.9 650.0,640.8 652.1,641.6 653.4,645.1 654.6,652.8 655.5,667.5 656.4,688.1 657.6,707.1 659.3,715.7 661.5,722.9 662.7,713.9 663.8,700.2 665.0,689.8 666.7,682.1 667.9,677.8 668.9,667.5 669.6,659.2 671.3,661.4 672.7,667.5 673.6,677.8 674.8,684.3 677.0,682.1 679.3,676.9 681.0,677.8 682.7,685.5 683.4,667.5 684.2,647.7 685.6,658.9 686.5,670.0 688.5,671.8 689.9,679.5 691.6,689.5 693.0,672.6 693.7,655.4 695.1,636.8 697.2,630.5 698.5,634.8 699.7,641.6 701.1,658.9 702.3,679.5 703.7,696.7 705.4,708.8 706.8,715.7 708.5,708.8 709.7,696.7 710.9,684.7 712.3,677.8 713.7,664.0 714.4,658.0 716.1,654.6 717.5,660.6 718.8,667.5 720.0,676.1 721.8,679.9 723.5,670.9 725.7,672.3 727.4,674.3 729.2,678.7 730.0,658.9 730.9,641.3 732.1,650.2 733.3,662.3 734.7,672.6 736.1,683.8 738.5,683.8 739.5,664.0 740.7,638.2 741.6,621.0 742.4,617.2 743.6,626.1 745.0,634.8 746.4,641.6 747.1,665.7 747.6,688.1 748.8,696.7 750.2,707.1 751.9,712.2 753.6,713.6 754.5,700.2 755.7,686.4 757.1,672.6 758.3,660.6 759.6,649.4 760.8,647.7 762.2,651.1 763.6,657.1 764.8,669.2 766.5,677.8 767.7,670.6 770.0,670.6 771.7,670.9 772.9,677.8 773.9,680.4 774.8,658.9 775.6,636.1 776.9,645.1 778.1,658.9 779.4,664.0 780.8,672.6 782.0,679.5 783.2,685.5 784.1,658.9 784.9,631.3 786.3,622.7 787.2,620.6 788.4,624.4 789.8,629.2 791.5,630.5 792.3,653.7 793.2,674.3 794.1,691.6 795.3,700.2 796.6,707.1 798.4,713.1 799.7,701.9 801.0,686.4 802.2,670.9 803.5,664.0 804.9,650.2 806.1,645.1 807.8,648.5 809.0,657.1 810.4,668.3 811.8,670.6 813.5,665.7 815.6,664.0 817.3,666.6 818.7,676.1 819.9,658.9 820.7,646.8 822.1,649.4 823.3,652.0 824.5,658.9 825.9,669.2 827.6,681.2 829.4,676.1 830.7,658.9 831.4,641.6 832.5,624.4 833.7,615.8 834.9,620.1 835.9,627.0 837.1,634.8 838.0,662.3 838.8,686.4 840.5,695.0 841.7,701.9 843.1,707.1 844.8,707.4 845.7,704.5 846.6,688.1 847.9,669.2 849.2,657.1 850.5,648.5 852.2,644.7 853.5,648.5 854.8,655.4 855.5,664.9 857.2,670.9 858.6,664.0 860.0,660.2 861.2,663.2 862.9,667.5 864.1,677.8 865.5,683.8 866.4,667.5 867.2,650.6 868.6,653.7 869.8,658.9 871.0,667.5 872.7,672.6 874.5,680.4 875.8,672.6 876.7,650.2 877.6,627.9 878.4,620.6 880.1,622.7 881.9,627.0 883.1,629.9 883.6,650.2 884.4,669.2 885.8,683.0 887.0,693.3 888.7,705.3 889.9,710.5 891.0,701.9 892.2,679.5 893.4,662.3 895.1,661.4 896.5,648.5 897.9,645.4 899.6,650.2 900.8,661.4 902.5,670.0 903.7,660.9 906.0,661.4 908.2,662.3 909.4,672.6 910.6,677.8 911.5,658.9 912.0,620.1 912.8,633.0 913.7,658.9 915.1,669.2 916.8,670.9 918.0,677.8 919.7,682.6 920.6,658.9 921.4,631.3 922.3,613.8 923.7,612.7 925.4,617.5 927.1,623.6 928.3,638.2 929.5,657.1 930.6,677.8 931.8,696.7 933.0,705.3 934.4,710.8 936.9,707.1 937.8,689.8 938.7,674.3 940.4,669.2 941.6,658.9 942.6,654.0 944.3,651.1 946.1,656.3 947.3,667.5 949.5,669.2 951.6,664.4 953.0,670.9 954.2,676.1 955.0,676.1 957.1,687.8 958.1,667.5 958.8,655.4 960.2,660.6 961.5,670.9 963.3,677.8 965.0,682.1 966.7,684.3 967.4,658.9 968.4,634.8 969.6,622.7 972.2,622.4 973.6,629.6 974.8,639.9 975.7,658.9 976.5,679.5 977.7,691.6 979.1,701.9 980.5,712.2 981.3,717.0 982.5,707.1 983.4,693.3 984.3,681.2 985.1,672.6 986.8,670.6 988.1,662.3 989.1,660.2 990.8,662.3 992.0,668.3 993.2,674.3 994.6,675.7 996.3,672.3 998.0,673.5 999.4,679.5 1000.6,685.5 1001.8,687.8 1002.9,672.6 1003.5,660.2 1005.8,659.7 1007.0,667.5 1008.4,674.3 1009.7,680.4 1011.5,684.3 1012.1,664.0 1012.7,645.1 1013.9,637.3 1015.2,633.0 1016.6,630.5 1017.8,635.6 1019.0,645.1 1020.4,656.3 1021.3,670.9 1022.1,684.7 1023.3,695.0 1024.2,705.3 1025.6,717.7 1027.0,717.0 1028.7,711.4 1029.4,696.7 1029.9,684.7 1031.3,676.1 1032.5,670.0 1034.2,668.3 1035.6,668.3 1037.3,672.6 1039.0,678.7 1040.7,678.7 1042.8,675.2 1044.2,681.2 1045.9,687.8 1048.0,691.6 1049.3,691.6 1049.7,676.1 1050.2,663.7 1051.7,667.5 1052.8,676.1 1054.0,683.8 1055.7,686.4 1057.8,691.6 1058.6,672.6 1059.5,653.7 1060.9,643.4 1061.7,640.3 1063.1,645.1 1064.3,652.0 1065.5,656.3 1066.5,669.2 1067.8,686.4 1069.0,701.9 1070.3,713.9 1072.1,721.7 1073.4,722.5 1074.6,710.5 1075.5,698.4 1076.4,688.1 1078.1,685.5 1079.3,681.2 1080.3,678.1 1082.0,682.1 1084.1,683.8 1086.7,686.4 1089.3,687.8 1091.0,691.6 1092.4,698.4 1093.6,702.8 1094.4,684.7 1095.3,669.2 1096.5,672.6 1097.9,681.2 1099.3,688.1 1101.0,694.7 1103.0,698.1 1103.9,684.7 1104.8,669.2 1106.1,659.7 1108.2,656.8 1109.6,660.6 1110.8,665.7 1112.5,673.5 1113.4,686.4 1114.7,700.2 1115.9,710.5 1117.2,726.8 1119.4,724.3 1120.6,713.9 1121.6,707.1 1123.4,701.9 1124.6,697.6 1126.3,695.0 1128.5,694.7 1130.6,695.3 1133.2,695.9 1135.4,697.6 1137.1,702.8 1139.5,705.3 1140.9,696.7 1142.3,690.7 1143.5,695.0 1144.7,700.2 1146.4,705.3 1149.2,707.4 1149.9,693.3 1150.9,681.2 1152.1,672.6 1153.3,669.2 1154.7,674.3 1157.3,681.2 1158.1,693.3 1159.3,703.6 1160.7,712.2 1161.6,722.5 1162.9,731.2 1164.7,735.5 1166.4,729.4 1167.6,722.5 1168.5,717.4 1170.2,711.4 1171.9,708.8 1174.5,708.4 1177.1,707.1 1180.5,705.7 1182.2,708.8 1183.6,715.7 1184.8,719.1 1185.7,710.5 1187.0,707.1 1188.8,710.5 1190.8,715.7 1192.6,717.4 1194.6,718.8 1196.0,710.5 1196.9,700.2 1197.7,691.6 1199.4,690.4 1202.0,694.1 1203.7,703.6 1204.9,713.9 1206.3,722.5 1207.7,732.9 1208.9,739.8 1210.6,743.5 1212.3,739.8 1214.1,732.9 1216.3,727.7 1218.0,722.5 1220.1,720.5 1222.7,719.4 1225.3,718.2 1227.8,719.4 1229.6,724.3 1230.8,731.2 1231.8,735.5 1233.0,729.4 1234.2,723.9 1235.6,722.5 1237.3,726.0 1239.0,728.6 1241.1,729.8 1242.1,722.5 1242.8,717.4 1244.5,712.2 1246.3,709.1 1248.5,712.2 1250.2,719.1 1251.4,726.0 1252.8,736.3 1254.2,743.2 1255.4,750.9 1257.6,752.2 1260.0,750.1 1262.3,745.8 1264.0,741.5 1265.7,736.3 1267.9,733.7 1270.4,732.5 1272.6,733.2 1274.8,734.6 1276.0,739.8 1277.8,745.8 1279.0,746.6 1280.7,741.5 1282.1,738.4 1283.8,741.5 1285.8,742.3 1288.1,743.2 1289.3,736.3 1291.0,732.0 1293.3,729.8 1295.5,732.0 1297.2,738.0 1298.4,744.9 1300.1,750.9 1301.9,757.0 1304.1,759.6 1306.2,760.8 1308.2,757.8 1310.5,752.7 1312.7,748.4 1315.1,747.0 1317.9,745.8 1319.9,747.0 1322.0,751.8 1323.7,756.1 1326.0,757.8 1326.8,759.0 1328.2,754.9 1329.9,756.6 1332.8,756.1 1335.4,754.4 1337.5,750.9 1339.7,748.4 1342.3,748.0 1344.4,749.2 1346.6,754.4 1348.9,759.6 1350.9,764.7 1353.0,767.6 1354.7,768.2 1356.9,765.6 1359.2,761.3 1361.2,757.8 1363.8,755.6 1366.1,755.3 1368.1,757.8 1370.2,762.1 1371.9,766.4 1374.2,769.0 1376.4,768.2 1378.8,766.4 1381.6,765.6 1383.6,763.9 1385.0,762.1 1387.9,761.3 1390.5,760.4 1392.6,762.1 1394.8,766.4 1397.0,770.7 1399.1,773.8 1401.2,774.5 1403.4,772.1 1406.0,768.2 1408.6,764.7 1410.8,763.0 1412.9,763.0 1414.9,766.4 1417.2,770.7 1419.4,774.5 1421.8,776.3 1424.6,774.5 1427.5,772.8 1430.4,771.6 1433.5,769.0 1436.1,765.6 1438.3,763.5 1440.4,763.9 1442.5,767.0 1444.7,770.7 1447.0,774.2 1449.0,775.6 1451.1,775.0 1453.3,771.6 1455.6,768.2 1457.6,765.9 1459.7,765.6 1461.9,767.3 1464.5,770.7 1467.1,774.5 1469.3,776.3 1471.7,775.6 1474.5,773.8 1477.4,771.6 1480.0,768.7 1482.6,764.7 1485.2,760.1 1487.2,757.3 1489.5,757.8 1491.7,762.1 1493.8,767.0 1495.8,771.1 1498.1,773.8 1500.3,773.3 1502.4,769.9 1504.4,765.6 1506.7,762.5 1508.9,761.3 1511.0,762.5 1513.1,765.9 1515.3,769.0 1517.5,770.4 1519.6,769.0 1521.7,765.6 1524.4,763.5 1526.5,761.8 1529.1,758.4 1531.3,753.5 1533.0,748.4 1534.2,744.1 1535.9,742.9 1537.7,744.9 1539.4,750.1 1541.1,756.6 1542.8,763.0 1544.6,769.0 1546.3,770.4 1548.0,767.3 1549.7,760.4 1552.0,754.9 1554.0,751.8 1556.1,750.9 1558.3,752.7 1560.6,755.6 1563.0,757.8 1565.2,758.7 1566.4,754.9 1567.4,750.9 1569.5,750.9 1572.1,750.9 1574.3,750.1 1576.4,746.6 1578.1,742.3 1579.8,734.6 1581.2,726.8 1582.4,723.9 1584.1,726.0 1585.4,731.2 1586.7,738.9 1588.5,747.5 1590.2,756.1 1591.9,762.5 1593.6,763.5 1595.3,759.6 1596.7,751.8 1598.4,744.1 1600.5,738.9 1603.1,737.2 1605.3,738.4 1607.7,741.1 1610.0,742.3 1612.2,744.1 1613.4,738.0 1614.3,732.9 1616.0,732.5 1618.1,734.6 1620.3,736.3 1622.5,734.3 1624.6,731.2 1626.0,726.0 1626.8,713.9 1627.7,701.9 1628.9,696.7 1630.6,698.4 1631.8,707.1 1633.2,720.8 1634.9,734.6 1636.6,745.8 1638.4,754.4 1640.4,754.4 1641.8,746.6 1643.2,734.6 1644.9,726.0 1647.0,720.8 1648.7,719.1 1650.4,718.8" fill="none" stroke="#000000" stroke-width="3.8" stroke-linejoin="round" stroke-linecap="butt" clip-path="url(#clipC1)"/>
<rect x="127.9" y="596.3" width="1522.50" height="189.20" fill="none" stroke="#1f1f1f" stroke-width="1.4"/>
<line x1="127.90" y1="613.20" x2="143.90" y2="613.20" stroke="#1f1f1f" stroke-width="1.2"/>
<line x1="1634.40" y1="613.20" x2="1650.40" y2="613.20" stroke="#1f1f1f" stroke-width="1.2"/>
<text transform="translate(114.60,627.40)" font-size="38" fill="#000000" text-anchor="end">10</text>
<line x1="127.90" y1="699.30" x2="143.90" y2="699.30" stroke="#1f1f1f" stroke-width="1.2"/>
<line x1="1634.40" y1="699.30" x2="1650.40" y2="699.30" stroke="#1f1f1f" stroke-width="1.2"/>
<text transform="translate(114.60,713.50)" font-size="38" fill="#000000" text-anchor="end">5</text>
<line x1="127.90" y1="785.50" x2="143.90" y2="785.50" stroke="#1f1f1f" stroke-width="1.2"/>
<line x1="1634.40" y1="785.50" x2="1650.40" y2="785.50" stroke="#1f1f1f" stroke-width="1.2"/>
<text transform="translate(114.60,799.70)" font-size="38" fill="#000000" text-anchor="end">0</text>
<text transform="translate(125.10,572.40) scale(0.95,1.04)" font-size="41.8" fill="#000000" text-anchor="start">C1</text>
</g>
<g id="panel-C2">
<clipPath id="clipC2"><rect x="1778.40" y="594.60" width="286.70" height="192.90"/></clipPath>
<polyline points="1780.1,728.6 1786.0,704.5 1792.0,686.1 1798.0,657.1 1804.0,670.0 1809.7,693.3 1815.7,713.1 1821.8,700.5 1827.4,701.5 1833.5,700.2 1839.3,717.7 1845.0,636.1 1851.0,669.2 1857.1,691.6 1862.7,706.2 1868.8,726.5 1874.8,626.1 1880.6,606.9 1886.3,621.8 1892.3,623.6 1898.4,669.2 1904.0,737.2 1909.9,757.8 1915.6,778.5 1921.6,737.7 1927.6,698.4 1933.3,686.9 1939.3,652.0 1945.4,658.0 1951.2,679.5 1956.9,698.4 1962.9,692.9 1968.6,687.8 1974.6,692.4 1980.5,708.8 1986.5,656.3 1992.5,664.9 1998.2,688.1 2004.2,700.2 2009.9,719.6 2015.9,694.1 2021.8,622.7 2027.5,597.7 2033.5,619.3 2039.5,642.5 2045.2,728.6 2051.2,744.1 2057.1,766.1 2063.3,763.9" fill="none" stroke="#ff0000" stroke-width="4.0" stroke-linejoin="round" stroke-linecap="butt" clip-path="url(#clipC2)"/>
<rect x="1780.2" y="596.4" width="283.10" height="189.30" fill="none" stroke="#ff0000" stroke-width="1.5"/>
<line x1="1780.20" y1="656.80" x2="1783.60" y2="656.80" stroke="#ff0000" stroke-width="1.5"/>
<line x1="2059.90" y1="656.80" x2="2063.30" y2="656.80" stroke="#ff0000" stroke-width="1.5"/>
<text transform="translate(1766.90,671.30)" font-size="38" fill="#ff0000" text-anchor="end">8</text>
<line x1="1780.20" y1="720.70" x2="1783.60" y2="720.70" stroke="#ff0000" stroke-width="1.5"/>
<line x1="2059.90" y1="720.70" x2="2063.30" y2="720.70" stroke="#ff0000" stroke-width="1.5"/>
<text transform="translate(1766.90,735.90)" font-size="38" fill="#ff0000" text-anchor="end">6</text>
<line x1="1780.20" y1="785.70" x2="1783.60" y2="785.70" stroke="#ff0000" stroke-width="1.5"/>
<line x1="2059.90" y1="785.70" x2="2063.30" y2="785.70" stroke="#ff0000" stroke-width="1.5"/>
<text transform="translate(1766.90,800.90)" font-size="38" fill="#ff0000" text-anchor="end">4</text>
<text transform="translate(1776.20,570.20) scale(0.95,1.04)" font-size="41.8" fill="#ff0000" text-anchor="start">C2</text>
</g>
<g id="panel-C3">
<clipPath id="clipC3"><rect x="2181.00" y="594.60" width="278.10" height="192.80"/></clipPath>
<polyline points="2182.8,659.7 2188.4,644.2 2194.3,631.0 2200.0,624.1 2205.6,615.5 2211.5,625.8 2217.2,650.2 2222.9,681.2 2228.7,713.1 2234.4,742.0 2240.1,750.9 2245.9,734.6 2251.6,717.4 2257.3,692.4 2263.0,660.6 2268.8,645.4 2274.5,640.8 2280.2,658.0 2285.9,683.8 2291.7,722.5 2297.4,753.5 2303.1,772.1 2308.8,763.0 2314.4,750.1 2320.3,744.6 2326.0,737.2 2331.6,726.0 2337.3,709.6 2343.0,689.8 2348.9,666.6 2354.5,652.0 2360.2,654.6 2365.9,674.3 2371.6,700.2 2377.4,732.9 2383.1,755.3 2388.8,756.6 2394.5,753.5 2400.2,731.2 2405.8,702.8 2411.7,682.1 2417.4,673.5 2423.1,676.9 2428.7,691.6 2434.4,715.7 2440.1,742.3 2445.9,766.4 2451.6,766.8 2457.3,756.1" fill="none" stroke="#0000ff" stroke-width="4.0" stroke-linejoin="round" stroke-linecap="butt" clip-path="url(#clipC3)"/>
<rect x="2182.8" y="596.4" width="274.50" height="189.20" fill="none" stroke="#0000ff" stroke-width="1.5"/>
<line x1="2182.80" y1="613.00" x2="2186.20" y2="613.00" stroke="#0000ff" stroke-width="1.5"/>
<line x1="2453.90" y1="613.00" x2="2457.30" y2="613.00" stroke="#0000ff" stroke-width="1.5"/>
<text transform="translate(2169.50,628.20)" font-size="38" fill="#0000ff" text-anchor="end">1.5</text>
<line x1="2182.80" y1="699.00" x2="2186.20" y2="699.00" stroke="#0000ff" stroke-width="1.5"/>
<line x1="2453.90" y1="699.00" x2="2457.30" y2="699.00" stroke="#0000ff" stroke-width="1.5"/>
<text transform="translate(2169.50,714.20)" font-size="38" fill="#0000ff" text-anchor="end">1</text>
<line x1="2182.80" y1="785.60" x2="2186.20" y2="785.60" stroke="#0000ff" stroke-width="1.5"/>
<line x1="2453.90" y1="785.60" x2="2457.30" y2="785.60" stroke="#0000ff" stroke-width="1.5"/>
<text transform="translate(2169.50,800.80)" font-size="38" fill="#0000ff" text-anchor="end">0.5</text>
<text transform="translate(2178.40,577.00) scale(0.95,1.04)" font-size="41.8" fill="#0000ff" text-anchor="start">C3</text>
</g>
<g id="panel-D1">
<clipPath id="clipD1"><rect x="127.50" y="856.90" width="1528.50" height="192.90"/></clipPath>
<rect x="757.9" y="866.0" width="89.20" height="177.20" fill="#ffffff" stroke="#ffb0b0" stroke-width="1.0"/>
<rect x="1386.3" y="866.0" width="89.40" height="177.20" fill="#ffffff" stroke="#b0b0ff" stroke-width="1.0"/>
<polyline points="129.3,942.4 130.4,944.1 131.4,945.9 132.5,947.4 133.6,948.1 134.6,947.6 135.6,946.1 136.6,943.9 137.6,940.9 138.6,937.2 139.6,933.0 140.7,928.3 141.7,923.2 142.7,917.9 143.7,912.4 144.7,906.7 145.7,901.1 146.7,895.6 147.7,890.3 148.7,885.2 149.7,880.5 150.7,876.3 151.8,872.6 152.8,869.6 153.8,867.4 154.8,865.9 155.8,865.4 156.8,865.7 157.8,866.7 158.8,868.1 159.8,870.0 160.8,872.4 161.9,875.1 162.9,878.2 163.9,881.5 164.9,884.9 165.9,888.6 166.9,892.3 167.9,896.0 168.9,899.8 169.9,903.4 171.0,906.9 172.0,910.2 173.0,913.2 174.0,916.0 175.0,918.3 176.0,920.2 177.0,921.7 178.0,922.6 179.0,922.9 180.0,922.7 181.0,922.0 182.0,920.8 183.0,919.3 183.9,917.5 184.9,915.4 185.9,913.0 186.9,910.4 187.9,907.7 188.8,904.9 189.8,902.0 190.8,899.1 191.8,896.2 192.8,893.4 193.7,890.6 194.7,888.1 195.7,885.7 196.7,883.6 197.7,881.8 198.6,880.3 199.6,879.1 200.6,878.4 201.6,878.2 202.6,878.5 203.6,879.6 204.5,881.3 205.5,883.6 206.5,886.4 207.5,889.6 208.5,893.2 209.4,897.2 210.4,901.4 211.4,905.7 212.4,910.3 213.4,914.8 214.4,919.4 215.3,923.9 216.3,928.3 217.3,932.5 218.3,936.4 219.3,940.0 220.3,943.3 221.2,946.1 222.2,948.3 223.2,950.1 224.2,951.1 225.2,951.5 226.2,951.1 227.2,949.8 228.1,947.8 229.1,945.1 230.1,941.9 231.1,938.2 232.1,934.1 233.1,929.6 234.1,924.9 235.1,920.0 236.1,915.1 237.1,910.1 238.1,905.3 239.1,900.6 240.1,896.1 241.1,892.0 242.1,888.3 243.1,885.0 244.0,882.4 245.0,880.4 246.0,879.1 247.0,878.7 248.0,878.9 249.1,879.7 250.1,881.0 251.1,882.6 252.1,884.6 253.1,886.9 254.2,889.5 255.2,892.3 256.2,895.2 257.2,898.3 258.2,901.5 259.2,904.6 260.3,907.8 261.3,910.9 262.3,913.8 263.3,916.6 264.3,919.2 265.4,921.5 266.4,923.5 267.4,925.1 268.4,926.4 269.4,927.1 270.4,927.4 271.4,927.2 272.4,926.6 273.4,925.6 274.4,924.2 275.4,922.6 276.4,920.7 277.4,918.6 278.3,916.4 279.3,914.0 280.3,911.5 281.3,908.9 282.3,906.3 283.3,903.7 284.3,901.2 285.3,898.8 286.2,896.6 287.2,894.5 288.2,892.6 289.2,891.0 290.2,889.6 291.2,888.7 292.2,888.0 293.2,887.8 294.2,888.2 295.2,889.2 296.2,890.9 297.2,893.2 298.3,895.9 299.3,899.1 300.3,902.7 301.3,906.5 302.3,910.7 303.3,915.0 304.4,919.4 305.4,924.0 306.4,928.5 307.4,932.9 308.4,937.2 309.5,941.4 310.5,945.2 311.5,948.8 312.5,952.0 313.5,954.7 314.6,957.0 315.6,958.7 316.6,959.7 317.6,960.1 318.6,959.7 319.6,958.7 320.6,957.0 321.5,954.7 322.5,952.0 323.5,948.8 324.5,945.3 325.5,941.5 326.5,937.5 327.5,933.3 328.5,929.1 329.4,924.9 330.4,920.8 331.4,916.8 332.4,913.0 333.4,909.4 334.4,906.3 335.4,903.5 336.3,901.3 337.3,899.6 338.3,898.5 339.3,898.1 340.3,898.3 341.3,899.0 342.4,899.9 343.4,901.2 344.4,902.8 345.4,904.7 346.4,906.8 347.4,909.0 348.5,911.4 349.5,913.9 350.5,916.5 351.5,919.1 352.5,921.8 353.6,924.3 354.6,926.8 355.6,929.2 356.6,931.5 357.6,933.6 358.6,935.4 359.7,937.0 360.7,938.3 361.7,939.3 362.7,939.9 363.7,940.1 364.7,939.9 365.8,939.3 366.8,938.4 367.8,937.2 368.8,935.7 369.8,934.0 370.8,932.2 371.8,930.2 372.8,928.1 373.8,926.0 374.8,923.9 375.8,921.8 376.8,919.9 377.8,918.0 378.8,916.3 379.9,914.8 380.9,913.6 381.9,912.7 382.9,912.1 383.9,911.9 384.9,912.2 385.8,913.0 386.8,914.3 387.8,916.0 388.8,918.2 389.8,920.6 390.8,923.4 391.8,926.5 392.7,929.7 393.7,933.1 394.7,936.6 395.7,940.2 396.7,943.8 397.7,947.4 398.6,950.9 399.6,954.3 400.6,957.6 401.6,960.6 402.6,963.4 403.6,965.9 404.6,968.0 405.5,969.8 406.5,971.1 407.5,971.9 408.5,972.2 409.5,971.8 410.5,970.9 411.5,969.5 412.5,967.5 413.5,965.2 414.5,962.5 415.5,959.5 416.5,956.3 417.5,953.0 418.5,949.5 419.5,946.1 420.5,942.6 421.5,939.3 422.5,936.1 423.5,933.1 424.5,930.4 425.5,928.1 426.5,926.1 427.5,924.7 428.5,923.8 429.5,923.4 430.5,923.6 431.5,924.0 432.5,924.8 433.5,925.7 434.5,926.9 435.5,928.3 436.4,929.9 437.4,931.6 438.4,933.4 439.4,935.4 440.4,937.4 441.4,939.4 442.4,941.5 443.4,943.6 444.4,945.6 445.4,947.7 446.4,949.6 447.4,951.4 448.4,953.1 449.4,954.7 450.4,956.1 451.3,957.3 452.3,958.3 453.3,959.0 454.3,959.4 455.3,959.6 456.3,959.4 457.3,959.0 458.3,958.4 459.3,957.5 460.3,956.4 461.3,955.2 462.3,953.9 463.3,952.5 464.3,951.1 465.3,949.7 466.3,948.2 467.3,946.8 468.3,945.5 469.3,944.3 470.3,943.3 471.3,942.4 472.3,941.7 473.3,941.3 474.3,941.2 475.2,941.4 476.2,942.0 477.2,942.9 478.2,944.2 479.2,945.8 480.2,947.6 481.2,949.7 482.2,951.9 483.2,954.4 484.2,956.9 485.2,959.6 486.2,962.3 487.2,965.0 488.2,967.8 489.1,970.5 490.1,973.1 491.1,975.7 492.1,978.1 493.1,980.3 494.1,982.4 495.1,984.2 496.1,985.8 497.1,987.1 498.1,988.0 499.1,988.6 500.1,988.8 501.1,988.6 502.1,987.9 503.1,986.8 504.1,985.4 505.1,983.6 506.1,981.6 507.1,979.4 508.1,977.0 509.1,974.6 510.1,972.1 511.1,969.6 512.1,967.1 513.1,964.7 514.0,962.5 515.0,960.5 516.0,958.8 517.0,957.3 518.0,956.2 519.0,955.5 520.0,955.3 521.0,955.4 522.0,955.7 523.0,956.1 524.0,956.7 525.0,957.5 526.0,958.4 527.0,959.4 527.9,960.4 528.9,961.6 529.9,962.9 530.9,964.1 531.9,965.5 532.9,966.8 533.9,968.2 534.9,969.5 535.8,970.9 536.8,972.2 537.8,973.4 538.8,974.6 539.8,975.6 540.8,976.6 541.8,977.5 542.8,978.2 543.7,978.7 544.7,979.1 545.7,979.3 546.7,979.3 547.7,979.1 548.7,978.7 549.7,978.1 550.7,977.4 551.7,976.6 552.7,975.8 553.7,975.0 554.7,974.3 555.7,973.6 556.7,972.9 557.7,972.3 558.8,971.8 559.8,971.3 560.8,970.9 561.9,970.7 562.9,970.6 563.9,970.7 565.0,971.1 566.0,971.7 567.0,972.5 568.1,973.6 569.1,975.0 570.1,976.5 571.1,978.3 572.1,980.2 573.1,982.2 574.1,984.4 575.1,986.5 576.1,988.7 577.1,990.7 578.0,992.7 579.0,994.5 580.0,996.1 581.0,997.7 582.1,999.2 583.1,1000.7 584.1,1002.0 585.1,1003.1 586.1,1004.1 587.1,1004.9 588.1,1005.5 589.1,1005.8 590.1,1005.9 591.0,1005.6 592.0,1005.0 593.0,1004.2 593.9,1003.2 594.9,1002.0 595.8,1000.7 596.8,999.4 597.7,998.0 598.7,996.7 599.7,995.3 600.6,994.0 601.6,992.6 602.6,991.3 603.6,990.0 604.5,988.8 605.5,987.6 606.5,986.6 607.5,985.7 608.4,985.1 609.4,984.6 610.4,984.3 611.4,984.3 612.5,984.3 613.5,984.6 614.5,984.9 615.6,985.4 616.6,985.9 617.6,986.5 618.6,987.1 619.5,987.8 620.5,988.6 621.5,989.3 622.4,990.1 623.4,990.9 624.3,991.6 625.3,992.4 626.2,993.0 627.3,993.6 628.3,994.2 629.3,994.8 630.3,995.3 631.3,995.7 632.3,996.1 633.4,996.5 634.4,996.8 635.4,997.0 636.4,997.1 637.4,997.2 638.5,997.1 639.5,997.0 640.5,996.8 641.6,996.6 642.6,996.3 643.6,996.0 644.7,995.7 645.7,995.3 646.7,995.0 647.8,994.6 648.8,994.3 649.8,994.1 650.8,994.0 651.9,993.9 652.9,993.9 653.9,994.1 654.9,994.4 655.9,994.8 656.9,995.4 657.9,996.1 658.9,996.9 659.9,997.9 660.9,998.9 661.8,1000.0 662.8,1001.1 663.7,1002.3 664.7,1003.5 665.6,1004.6 666.6,1005.8 667.5,1006.9 668.5,1007.9 669.5,1009.0 670.4,1010.1 671.4,1011.1 672.4,1012.1 673.3,1013.1 674.3,1014.0 675.3,1014.9 676.2,1015.6 677.2,1016.2 678.2,1016.6 679.1,1016.8 680.1,1016.8 681.1,1016.6 682.1,1016.2 683.1,1015.6 684.0,1014.8 685.0,1013.9 686.0,1012.9 687.0,1011.8 688.0,1010.8 688.9,1009.7 689.9,1008.7 691.0,1007.8 692.0,1006.8 693.0,1005.9 694.1,1005.1 695.1,1004.3 696.1,1003.5 697.2,1002.9 698.2,1002.4 699.2,1002.1 700.3,1001.9 701.2,1001.9 702.2,1002.0 703.2,1002.2 704.2,1002.5 705.2,1002.8 706.2,1003.1 707.1,1003.5 708.2,1003.9 709.2,1004.4 710.2,1004.8 711.3,1005.2 712.3,1005.7 713.3,1006.1 714.4,1006.5 715.4,1007.0 716.4,1007.3 717.5,1007.7 718.5,1008.1 719.5,1008.4 720.6,1008.7 721.6,1009.0 722.6,1009.2 723.7,1009.4 724.7,1009.6 725.7,1009.7 726.8,1009.8 727.8,1009.8 728.8,1009.8 729.8,1009.8 730.8,1009.6 731.8,1009.5 732.8,1009.3 733.8,1009.2 734.8,1009.0 735.8,1008.8 736.8,1008.7 737.8,1008.6 738.8,1008.6 739.8,1008.6 740.8,1008.8 741.8,1009.0 742.8,1009.3 743.8,1009.7 744.8,1010.2 745.7,1010.8 746.7,1011.3 747.8,1012.0 748.8,1012.6 749.8,1013.3 750.9,1014.0 751.9,1014.7 752.9,1015.4 754.0,1016.1 755.0,1016.8 756.0,1017.4 757.1,1018.0 758.1,1018.6 759.1,1019.1 760.2,1019.6 761.2,1020.1 762.2,1020.5 763.3,1020.9 764.3,1021.2 765.3,1021.4 766.4,1021.5 767.4,1021.6 768.3,1021.5 769.3,1021.4 770.3,1021.2 771.2,1020.9 772.2,1020.6 773.1,1020.2 774.1,1019.8 775.0,1019.3 776.0,1018.9 777.0,1018.4 778.0,1017.9 779.0,1017.3 780.0,1016.8 781.0,1016.2 782.0,1015.7 783.0,1015.2 784.0,1014.8 785.0,1014.4 786.0,1014.1 787.0,1013.9 788.0,1013.7 789.0,1013.6 790.0,1013.6 791.0,1013.6 792.0,1013.7 793.0,1013.8 794.0,1013.9 795.0,1013.9 796.0,1014.0 797.0,1014.1 798.0,1014.2 799.0,1014.2 800.0,1014.2 801.0,1014.2 802.0,1014.2 803.0,1014.1 804.1,1014.1 805.1,1014.0 806.1,1013.8 807.1,1013.7 808.2,1013.5 809.2,1013.4 810.2,1013.2 811.3,1013.1 812.3,1013.0 813.3,1012.9 814.4,1012.8 815.4,1012.7 816.4,1012.7 817.5,1012.7 818.5,1012.8 819.5,1012.9 820.5,1013.0 821.5,1013.2 822.5,1013.4 823.6,1013.6 824.6,1013.9 825.6,1014.1 826.6,1014.4 827.6,1014.8 828.6,1015.2 829.5,1015.6 830.5,1016.0 831.5,1016.5 832.4,1017.0 833.4,1017.5 834.3,1018.0 835.3,1018.5 836.2,1018.9 837.2,1019.4 838.2,1019.8 839.2,1020.3 840.1,1020.7 841.1,1021.1 842.1,1021.5 843.0,1021.8 844.0,1022.1 845.0,1022.3 845.9,1022.4 846.9,1022.5 847.9,1022.4 848.9,1022.3 849.9,1022.1 850.9,1021.9 851.9,1021.6 852.9,1021.3 853.9,1020.9 854.9,1020.6 855.9,1020.2 856.9,1019.8 857.9,1019.5 858.9,1019.1 859.9,1018.8 861.0,1018.4 862.0,1018.1 863.0,1017.7 864.0,1017.4 865.0,1017.2 866.1,1016.9 867.1,1016.7 868.1,1016.5 869.1,1016.4 870.1,1016.3 871.1,1016.2 872.1,1016.2 873.1,1016.1 874.0,1016.1 875.0,1016.1 876.0,1016.1 877.0,1016.0 878.0,1016.0 879.0,1016.0 880.0,1015.9 881.0,1015.8 882.0,1015.7 883.0,1015.6 883.9,1015.5 884.9,1015.3 885.9,1015.1 886.9,1014.8 887.9,1014.5 888.8,1014.2 889.8,1013.8 890.8,1013.4 891.7,1013.0 892.7,1012.5 893.6,1012.1 894.6,1011.6 895.5,1011.1 896.5,1010.7 897.5,1010.3 898.6,1009.8 899.6,1009.4 900.6,1009.0 901.7,1008.6 902.7,1008.3 903.7,1008.0 904.8,1007.8 905.8,1007.6 906.8,1007.6 907.8,1007.6 908.7,1007.8 909.7,1008.0 910.6,1008.3 911.6,1008.6 912.6,1009.0 913.5,1009.5 914.5,1010.0 915.4,1010.5 916.4,1011.1 917.3,1011.7 918.3,1012.3 919.2,1013.0 920.2,1013.7 921.2,1014.4 922.1,1015.0 923.1,1015.7 924.0,1016.3 925.1,1016.9 926.1,1017.4 927.1,1017.9 928.2,1018.3 929.2,1018.6 930.2,1018.7 931.3,1018.8 932.2,1018.7 933.1,1018.4 934.1,1018.0 935.0,1017.5 935.9,1016.8 936.9,1016.1 937.8,1015.3 938.8,1014.5 939.7,1013.5 940.7,1012.6 941.7,1011.6 942.6,1010.7 943.6,1009.7 944.6,1008.8 945.5,1008.0 946.6,1007.2 947.6,1006.4 948.6,1005.8 949.6,1005.2 950.6,1004.7 951.6,1004.2 952.6,1003.9 953.6,1003.8 954.6,1003.7 955.6,1003.8 956.6,1003.9 957.5,1004.1 958.5,1004.4 959.5,1004.7 960.4,1005.1 961.4,1005.4 962.4,1005.8 963.4,1006.2 964.3,1006.6 965.3,1006.9 966.3,1007.2 967.2,1007.4 968.2,1007.6 969.2,1007.7 970.1,1007.8 971.2,1007.7 972.2,1007.5 973.2,1007.2 974.2,1006.7 975.2,1006.2 976.2,1005.5 977.2,1004.8 978.2,1004.0 979.2,1003.2 980.2,1002.3 981.2,1001.3 982.2,1000.4 983.2,999.4 984.2,998.5 985.2,997.5 986.2,996.6 987.3,995.7 988.3,994.9 989.3,994.1 990.3,993.3 991.3,992.7 992.3,992.2 993.3,991.7 994.3,991.4 995.3,991.2 996.3,991.1 997.3,991.2 998.3,991.5 999.3,992.0 1000.4,992.7 1001.4,993.5 1002.4,994.4 1003.4,995.4 1004.4,996.6 1005.4,997.8 1006.4,999.0 1007.4,1000.3 1008.4,1001.5 1009.4,1002.8 1010.5,1004.0 1011.5,1005.2 1012.5,1006.4 1013.5,1007.4 1014.5,1008.3 1015.5,1009.1 1016.5,1009.8 1017.5,1010.3 1018.5,1010.6 1019.6,1010.7 1020.5,1010.6 1021.5,1010.1 1022.5,1009.4 1023.5,1008.5 1024.5,1007.4 1025.4,1006.0 1026.4,1004.6 1027.4,1002.9 1028.4,1001.2 1029.4,999.4 1030.4,997.6 1031.3,995.7 1032.3,993.9 1033.3,992.0 1034.3,990.2 1035.3,988.5 1036.3,986.9 1037.2,985.4 1038.2,984.1 1039.2,983.0 1040.2,982.0 1041.2,981.3 1042.2,980.9 1043.1,980.8 1044.1,980.9 1045.1,981.2 1046.1,981.7 1047.2,982.4 1048.2,983.3 1049.2,984.2 1050.2,985.2 1051.2,986.3 1052.2,987.4 1053.2,988.5 1054.2,989.6 1055.2,990.6 1056.2,991.5 1057.2,992.3 1058.2,993.0 1059.2,993.6 1060.2,993.9 1061.2,994.0 1062.2,993.9 1063.2,993.5 1064.3,992.9 1065.3,992.0 1066.3,991.0 1067.3,989.8 1068.3,988.5 1069.4,987.1 1070.4,985.5 1071.4,983.9 1072.4,982.2 1073.4,980.5 1074.5,978.8 1075.5,977.1 1076.5,975.4 1077.5,973.8 1078.5,972.2 1079.6,970.8 1080.6,969.4 1081.6,968.3 1082.6,967.2 1083.6,966.4 1084.6,965.8 1085.7,965.4 1086.7,965.3 1087.7,965.5 1088.7,966.0 1089.7,966.8 1090.7,967.9 1091.7,969.3 1092.7,970.9 1093.8,972.7 1094.8,974.6 1095.8,976.6 1096.8,978.7 1097.8,980.9 1098.8,983.1 1099.8,985.2 1100.8,987.3 1101.8,989.4 1102.9,991.3 1103.9,993.0 1104.9,994.6 1105.9,996.0 1106.9,997.1 1107.9,997.9 1108.9,998.5 1109.9,998.7 1110.9,998.4 1111.9,997.7 1112.9,996.6 1113.9,995.1 1114.8,993.2 1115.8,991.1 1116.8,988.7 1117.8,986.1 1118.8,983.3 1119.8,980.4 1120.7,977.4 1121.7,974.4 1122.7,971.4 1123.7,968.4 1124.7,965.5 1125.6,962.7 1126.6,960.1 1127.6,957.7 1128.6,955.6 1129.6,953.7 1130.6,952.2 1131.5,951.1 1132.5,950.4 1133.5,950.1 1134.5,950.3 1135.5,950.9 1136.5,951.8 1137.5,952.9 1138.5,954.4 1139.4,956.0 1140.4,957.8 1141.4,959.7 1142.4,961.7 1143.4,963.7 1144.4,965.8 1145.4,967.7 1146.4,969.7 1147.4,971.4 1148.4,973.1 1149.3,974.5 1150.3,975.7 1151.3,976.6 1152.3,977.1 1153.3,977.3 1154.3,977.1 1155.3,976.5 1156.3,975.6 1157.3,974.4 1158.3,972.8 1159.3,971.1 1160.3,969.1 1161.3,966.9 1162.3,964.6 1163.3,962.2 1164.3,959.7 1165.3,957.1 1166.3,954.5 1167.3,951.9 1168.3,949.4 1169.3,947.0 1170.3,944.7 1171.3,942.5 1172.3,940.5 1173.3,938.8 1174.3,937.2 1175.3,936.0 1176.3,935.1 1177.3,934.5 1178.3,934.3 1179.3,934.6 1180.3,935.4 1181.3,936.6 1182.3,938.3 1183.3,940.4 1184.3,942.8 1185.3,945.5 1186.3,948.4 1187.4,951.5 1188.4,954.7 1189.4,957.9 1190.4,961.2 1191.4,964.5 1192.4,967.7 1193.4,970.8 1194.4,973.7 1195.4,976.4 1196.4,978.8 1197.5,980.8 1198.5,982.5 1199.5,983.8 1200.5,984.6 1201.5,984.9 1202.5,984.5 1203.5,983.5 1204.5,981.8 1205.5,979.6 1206.6,976.9 1207.6,973.8 1208.6,970.3 1209.6,966.6 1210.6,962.6 1211.6,958.4 1212.6,954.2 1213.6,949.9 1214.6,945.6 1215.6,941.5 1216.7,937.5 1217.7,933.7 1218.7,930.2 1219.7,927.1 1220.7,924.4 1221.7,922.2 1222.7,920.5 1223.7,919.5 1224.7,919.1 1225.7,919.4 1226.7,920.2 1227.7,921.4 1228.7,923.0 1229.7,925.0 1230.7,927.3 1231.7,929.8 1232.7,932.4 1233.7,935.3 1234.7,938.2 1235.7,941.1 1236.6,944.0 1237.6,946.8 1238.6,949.5 1239.6,952.0 1240.6,954.2 1241.6,956.2 1242.6,957.8 1243.6,959.1 1244.6,959.8 1245.6,960.1 1246.6,959.9 1247.6,959.1 1248.5,958.0 1249.5,956.4 1250.5,954.5 1251.5,952.3 1252.5,949.8 1253.5,947.1 1254.5,944.2 1255.5,941.1 1256.5,938.0 1257.5,934.8 1258.5,931.5 1259.4,928.3 1260.4,925.2 1261.4,922.1 1262.4,919.2 1263.4,916.5 1264.4,914.0 1265.4,911.8 1266.4,909.9 1267.4,908.4 1268.4,907.2 1269.4,906.5 1270.4,906.2 1271.4,906.6 1272.4,907.7 1273.4,909.4 1274.4,911.6 1275.4,914.4 1276.4,917.5 1277.4,921.1 1278.4,924.9 1279.4,929.0 1280.5,933.3 1281.5,937.6 1282.5,942.0 1283.5,946.3 1284.5,950.6 1285.5,954.6 1286.5,958.5 1287.5,962.0 1288.5,965.2 1289.6,968.0 1290.6,970.2 1291.6,971.9 1292.6,973.0 1293.6,973.4 1294.6,972.9 1295.6,971.6 1296.6,969.6 1297.6,966.9 1298.6,963.7 1299.6,959.9 1300.6,955.6 1301.6,951.0 1302.6,946.2 1303.5,941.1 1304.5,935.9 1305.5,930.7 1306.5,925.5 1307.5,920.5 1308.5,915.6 1309.5,911.0 1310.5,906.8 1311.5,903.0 1312.5,899.7 1313.5,897.0 1314.5,895.0 1315.5,893.8 1316.5,893.3 1317.5,893.6 1318.4,894.5 1319.4,895.9 1320.4,897.8 1321.4,900.1 1322.4,902.8 1323.3,905.8 1324.3,908.9 1325.3,912.3 1326.3,915.8 1327.2,919.3 1328.2,922.8 1329.2,926.3 1330.2,929.7 1331.2,932.9 1332.1,935.8 1333.1,938.5 1334.1,940.8 1335.1,942.7 1336.1,944.1 1337.0,945.0 1338.0,945.3 1339.0,945.0 1340.0,944.1 1341.1,942.7 1342.1,940.8 1343.1,938.5 1344.1,935.8 1345.1,932.8 1346.2,929.5 1347.2,926.0 1348.2,922.4 1349.2,918.6 1350.2,914.8 1351.2,911.0 1352.3,907.3 1353.3,903.6 1354.3,900.2 1355.3,896.9 1356.3,893.9 1357.4,891.2 1358.4,888.9 1359.4,887.0 1360.4,885.6 1361.4,884.7 1362.4,884.4 1363.4,884.8 1364.4,885.9 1365.4,887.8 1366.4,890.3 1367.4,893.4 1368.4,896.9 1369.4,900.9 1370.4,905.2 1371.4,909.8 1372.3,914.6 1373.3,919.5 1374.3,924.6 1375.3,929.6 1376.3,934.5 1377.3,939.3 1378.3,943.9 1379.3,948.2 1380.3,952.2 1381.2,955.7 1382.2,958.8 1383.2,961.3 1384.2,963.2 1385.2,964.3 1386.2,964.8 1387.2,964.2 1388.2,962.7 1389.2,960.3 1390.3,957.1 1391.3,953.3 1392.3,948.8 1393.3,943.9 1394.3,938.5 1395.3,932.9 1396.4,927.0 1397.4,921.1 1398.4,915.2 1399.4,909.3 1400.4,903.7 1401.4,898.4 1402.5,893.4 1403.5,889.0 1404.5,885.1 1405.5,881.9 1406.5,879.5 1407.5,878.0 1408.6,877.5 1409.6,877.8 1410.6,878.9 1411.6,880.6 1412.6,882.9 1413.7,885.6 1414.7,888.8 1415.7,892.3 1416.7,896.1 1417.7,900.1 1418.7,904.2 1419.8,908.5 1420.8,912.7 1421.8,916.8 1422.8,920.8 1423.8,924.6 1424.8,928.1 1425.9,931.3 1426.9,934.0 1427.9,936.3 1428.9,938.0 1429.9,939.1 1430.9,939.4 1432.0,939.1 1433.0,938.1 1434.0,936.6 1435.0,934.5 1436.0,932.0 1437.0,929.1 1438.0,925.8 1439.0,922.3 1440.0,918.5 1441.0,914.6 1442.1,910.6 1443.1,906.6 1444.1,902.6 1445.1,898.7 1446.1,895.0 1447.1,891.5 1448.1,888.2 1449.1,885.3 1450.1,882.8 1451.2,880.7 1452.2,879.1 1453.2,878.2 1454.2,877.8 1455.2,878.3 1456.1,879.5 1457.1,881.5 1458.1,884.2 1459.1,887.4 1460.1,891.2 1461.1,895.4 1462.0,900.0 1463.0,904.9 1464.0,910.1 1465.0,915.3 1466.0,920.7 1467.0,926.0 1467.9,931.3 1468.9,936.4 1469.9,941.3 1470.9,945.9 1471.9,950.2 1472.9,953.9 1473.8,957.2 1474.8,959.9 1475.8,961.9 1476.8,963.1 1477.8,963.5 1478.8,963.1 1479.8,961.7 1480.8,959.6 1481.7,956.8 1482.7,953.3 1483.7,949.3 1484.7,944.9 1485.7,940.0 1486.7,934.9 1487.7,929.6 1488.7,924.1 1489.7,918.6 1490.7,913.2 1491.7,907.8 1492.7,902.7 1493.7,897.9 1494.7,893.4 1495.7,889.4 1496.7,886.0 1497.7,883.1 1498.7,881.0 1499.7,879.7 1500.7,879.2 1501.7,879.5 1502.7,880.5 1503.7,882.1 1504.7,884.1 1505.7,886.6 1506.7,889.6 1507.7,892.8 1508.7,896.3 1509.8,900.1 1510.8,903.9 1511.8,907.9 1512.8,911.9 1513.8,915.9 1514.8,919.8 1515.8,923.5 1516.8,927.0 1517.8,930.3 1518.8,933.2 1519.9,935.7 1520.9,937.8 1521.9,939.3 1522.9,940.3 1523.9,940.7 1524.9,940.3 1525.9,939.4 1527.0,938.0 1528.0,936.1 1529.0,933.8 1530.0,931.1 1531.0,928.2 1532.0,925.0 1533.1,921.6 1534.1,918.1 1535.1,914.6 1536.1,911.0 1537.1,907.5 1538.1,904.2 1539.2,901.0 1540.2,898.0 1541.2,895.4 1542.2,893.0 1543.2,891.1 1544.2,889.7 1545.3,888.8 1546.3,888.5 1547.3,888.9 1548.3,890.1 1549.3,891.9 1550.3,894.4 1551.3,897.5 1552.3,901.0 1553.3,905.0 1554.3,909.3 1555.3,913.9 1556.3,918.7 1557.3,923.6 1558.3,928.6 1559.3,933.6 1560.3,938.5 1561.3,943.3 1562.3,947.9 1563.3,952.2 1564.4,956.2 1565.4,959.7 1566.4,962.8 1567.4,965.3 1568.4,967.1 1569.4,968.3 1570.4,968.7 1571.4,968.3 1572.4,967.2 1573.3,965.4 1574.3,963.0 1575.3,960.2 1576.3,956.8 1577.3,953.1 1578.3,949.0 1579.3,944.7 1580.3,940.3 1581.2,935.7 1582.2,931.1 1583.2,926.6 1584.2,922.1 1585.2,917.8 1586.2,913.8 1587.2,910.0 1588.2,906.7 1589.1,903.8 1590.1,901.4 1591.1,899.6 1592.1,898.5 1593.1,898.1 1594.1,898.4 1595.1,899.3 1596.2,900.7 1597.2,902.6 1598.2,904.9 1599.2,907.5 1600.2,910.4 1601.2,913.6 1602.3,917.0 1603.3,920.5 1604.3,924.0 1605.3,927.7 1606.3,931.2 1607.3,934.7 1608.4,938.1 1609.4,941.3 1610.4,944.2 1611.4,946.8 1612.4,949.1 1613.5,951.0 1614.5,952.4 1615.5,953.3 1616.5,953.6 1617.5,953.3 1618.5,952.7 1619.5,951.6 1620.5,950.2 1621.5,948.5 1622.5,946.5 1623.5,944.3 1624.5,941.9 1625.5,939.4 1626.4,936.8 1627.4,934.2 1628.4,931.6 1629.4,929.0 1630.4,926.5 1631.4,924.1 1632.4,921.9 1633.4,919.9 1634.4,918.2 1635.4,916.8 1636.4,915.7 1637.4,915.1 1638.4,914.8 1639.4,915.2 1640.4,916.1 1641.3,917.7 1642.3,919.7 1643.3,922.2 1644.3,925.0 1645.3,928.2 1646.3,931.5 1647.3,935.1 1648.3,938.8 1649.3,942.5 1650.2,946.2 1651.2,949.8 1652.2,953.3 1653.2,956.6 1654.2,959.6 1655.2,962.7 1656.3,965.9 1657.3,969.1" fill="none" stroke="#000000" stroke-width="3.8" stroke-linejoin="round" stroke-linecap="butt" clip-path="url(#clipD1)"/>
<rect x="129.3" y="858.7" width="1524.90" height="189.30" fill="none" stroke="#1f1f1f" stroke-width="1.4"/>
<line x1="129.30" y1="875.80" x2="145.30" y2="875.80" stroke="#1f1f1f" stroke-width="1.2"/>
<line x1="1638.20" y1="875.80" x2="1654.20" y2="875.80" stroke="#1f1f1f" stroke-width="1.2"/>
<text transform="translate(116.00,890.00)" font-size="38" fill="#000000" text-anchor="end">0.1</text>
<line x1="129.30" y1="961.80" x2="145.30" y2="961.80" stroke="#1f1f1f" stroke-width="1.2"/>
<line x1="1638.20" y1="961.80" x2="1654.20" y2="961.80" stroke="#1f1f1f" stroke-width="1.2"/>
<text transform="translate(116.00,976.00)" font-size="38" fill="#000000" text-anchor="end">0.05</text>
<line x1="129.30" y1="1048.00" x2="145.30" y2="1048.00" stroke="#1f1f1f" stroke-width="1.2"/>
<line x1="1638.20" y1="1048.00" x2="1654.20" y2="1048.00" stroke="#1f1f1f" stroke-width="1.2"/>
<text transform="translate(116.00,1062.20)" font-size="38" fill="#000000" text-anchor="end">0</text>
<line x1="488.00" y1="1048.00" x2="488.00" y2="1032.00" stroke="#1f1f1f" stroke-width="1.2"/>
<line x1="488.00" y1="858.70" x2="488.00" y2="874.70" stroke="#1f1f1f" stroke-width="1.2"/>
<line x1="937.20" y1="1048.00" x2="937.20" y2="1032.00" stroke="#1f1f1f" stroke-width="1.2"/>
<line x1="937.20" y1="858.70" x2="937.20" y2="874.70" stroke="#1f1f1f" stroke-width="1.2"/>
<line x1="1386.30" y1="1048.00" x2="1386.30" y2="1032.00" stroke="#1f1f1f" stroke-width="1.2"/>
<line x1="1386.30" y1="858.70" x2="1386.30" y2="874.70" stroke="#1f1f1f" stroke-width="1.2"/>
<text transform="translate(487.50,1100.00)" font-size="38" fill="#000000" text-anchor="middle">03/14</text>
<text transform="translate(936.50,1100.00)" font-size="38" fill="#000000" text-anchor="middle">03/19</text>
<text transform="translate(1385.50,1100.00)" font-size="38" fill="#000000" text-anchor="middle">03/24</text>
<text transform="translate(127.00,831.70) scale(0.95,1.04)" font-size="41.8" fill="#000000" text-anchor="start">D1</text>
</g>
<g id="panel-D2">
<clipPath id="clipD2"><rect x="1777.10" y="857.00" width="289.30" height="192.80"/></clipPath>
<polyline points="1778.7,971.6 1782.2,985.4 1785.6,997.5 1789.9,1009.5 1794.2,1019.8 1798.5,1028.4 1802.8,1034.5 1807.1,1037.9 1809.7,1038.9 1813.2,1038.4 1817.5,1035.3 1821.8,1029.3 1826.1,1021.6 1830.4,1011.2 1834.7,999.2 1839.0,985.4 1843.3,969.9 1847.9,950.6 1852.6,929.8 1856.9,916.0 1861.2,902.2 1864.7,892.8 1868.1,884.2 1873.3,875.1 1880.2,869.1 1885.8,868.7 1892.2,872.1 1899.1,876.9 1906.0,881.2 1911.2,883.3 1916.3,884.0 1921.5,883.1 1928.4,880.3 1935.3,876.0 1942.1,870.8 1949.0,865.9 1955.9,862.2 1961.9,860.2 1967.1,859.6 1972.3,860.2 1978.3,862.2 1985.0,865.7 1989.6,870.6 1995.6,877.0 2000.8,884.7 2006.0,894.2 2011.1,906.2 2015.4,918.3 2019.7,932.9 2024.0,948.4 2028.3,964.8 2032.6,981.1 2036.9,995.7 2041.2,1009.5 2045.5,1021.6 2049.8,1031.9 2054.2,1039.6 2058.5,1044.8 2061.9,1047.0 2064.5,1047.9" fill="none" stroke="#ff0000" stroke-width="4.0" stroke-linejoin="round" stroke-linecap="butt" clip-path="url(#clipD2)"/>
<rect x="1778.9" y="858.8" width="285.70" height="189.20" fill="none" stroke="#ff0000" stroke-width="1.5"/>
<line x1="1778.90" y1="876.70" x2="1782.30" y2="876.70" stroke="#ff0000" stroke-width="1.5"/>
<line x1="2061.20" y1="876.70" x2="2064.60" y2="876.70" stroke="#ff0000" stroke-width="1.5"/>
<text transform="translate(1765.60,890.90)" font-size="38" fill="#ff0000" text-anchor="end">0.02</text>
<line x1="1778.90" y1="1042.00" x2="1782.30" y2="1042.00" stroke="#ff0000" stroke-width="1.5"/>
<line x1="2061.20" y1="1042.00" x2="2064.60" y2="1042.00" stroke="#ff0000" stroke-width="1.5"/>
<text transform="translate(1765.60,1056.20)" font-size="38" fill="#ff0000" text-anchor="end">0.015</text>
<line x1="1778.90" y1="1048.00" x2="1778.90" y2="1044.60" stroke="#ff0000" stroke-width="1.5"/>
<line x1="1778.90" y1="858.80" x2="1778.90" y2="862.20" stroke="#ff0000" stroke-width="1.5"/>
<line x1="1921.50" y1="1048.00" x2="1921.50" y2="1044.60" stroke="#ff0000" stroke-width="1.5"/>
<line x1="1921.50" y1="858.80" x2="1921.50" y2="862.20" stroke="#ff0000" stroke-width="1.5"/>
<line x1="2064.60" y1="1048.00" x2="2064.60" y2="1044.60" stroke="#ff0000" stroke-width="1.5"/>
<line x1="2064.60" y1="858.80" x2="2064.60" y2="862.20" stroke="#ff0000" stroke-width="1.5"/>
<text transform="translate(1778.00,1100.00)" font-size="38" fill="#ff0000" text-anchor="middle">00:00</text>
<text transform="translate(1921.70,1100.00)" font-size="38" fill="#ff0000" text-anchor="middle">12:00</text>
<text transform="translate(2064.00,1100.00)" font-size="38" fill="#ff0000" text-anchor="middle">00:00</text>
<text transform="translate(1777.90,832.80) scale(0.95,1.04)" font-size="41.8" fill="#ff0000" text-anchor="start">D2</text>
</g>
<g id="panel-D3">
<clipPath id="clipD3"><rect x="2178.00" y="857.00" width="278.50" height="192.80"/></clipPath>
<polyline points="2181.0,1046.5 2185.3,1043.1 2189.6,1035.3 2193.9,1024.1 2198.2,1011.2 2202.5,994.9 2206.8,975.9 2211.2,957.0 2215.5,938.1 2219.8,919.1 2224.1,901.9 2228.4,888.1 2232.7,877.0 2237.0,869.2 2241.3,864.4 2244.7,862.3 2248.2,861.8 2251.6,863.2 2255.9,867.5 2260.2,874.4 2264.5,883.0 2268.8,893.3 2273.1,905.4 2277.4,918.3 2281.7,931.2 2286.0,944.1 2290.3,956.1 2294.6,966.5 2298.9,975.9 2303.2,983.7 2307.6,989.4 2311.9,992.8 2317.0,994.2 2322.2,992.8 2326.5,989.4 2330.8,983.7 2335.1,975.9 2339.4,966.5 2343.7,955.3 2348.0,943.2 2352.3,929.5 2356.6,915.7 2360.9,902.8 2365.2,890.7 2369.5,880.4 2373.8,872.7 2378.1,867.1 2382.4,864.0 2386.7,863.2 2391.0,863.7 2395.3,867.5 2399.6,874.4 2403.9,883.8 2408.3,895.9 2412.6,909.7 2416.9,925.2 2421.2,942.4 2425.5,959.6 2429.8,976.8 2434.1,993.2 2438.4,1007.8 2442.7,1020.7 2447.0,1031.0 2451.3,1038.8 2454.7,1042.2" fill="none" stroke="#0000ff" stroke-width="4.0" stroke-linejoin="round" stroke-linecap="butt" clip-path="url(#clipD3)"/>
<rect x="2179.8" y="858.8" width="274.90" height="189.20" fill="none" stroke="#0000ff" stroke-width="1.5"/>
<line x1="2179.80" y1="858.80" x2="2183.20" y2="858.80" stroke="#0000ff" stroke-width="1.5"/>
<line x1="2451.30" y1="858.80" x2="2454.70" y2="858.80" stroke="#0000ff" stroke-width="1.5"/>
<text transform="translate(2166.50,873.30)" font-size="38" fill="#0000ff" text-anchor="end">0.1</text>
<line x1="2179.80" y1="1041.50" x2="2183.20" y2="1041.50" stroke="#0000ff" stroke-width="1.5"/>
<line x1="2451.30" y1="1041.50" x2="2454.70" y2="1041.50" stroke="#0000ff" stroke-width="1.5"/>
<text transform="translate(2166.50,1056.40)" font-size="38" fill="#0000ff" text-anchor="end">0.05</text>
<line x1="2179.80" y1="1048.00" x2="2179.80" y2="1044.60" stroke="#0000ff" stroke-width="1.5"/>
<line x1="2179.80" y1="858.80" x2="2179.80" y2="862.20" stroke="#0000ff" stroke-width="1.5"/>
<line x1="2317.30" y1="1048.00" x2="2317.30" y2="1044.60" stroke="#0000ff" stroke-width="1.5"/>
<line x1="2317.30" y1="858.80" x2="2317.30" y2="862.20" stroke="#0000ff" stroke-width="1.5"/>
<line x1="2454.70" y1="1048.00" x2="2454.70" y2="1044.60" stroke="#0000ff" stroke-width="1.5"/>
<line x1="2454.70" y1="858.80" x2="2454.70" y2="862.20" stroke="#0000ff" stroke-width="1.5"/>
<text transform="translate(2179.50,1100.00)" font-size="38" fill="#0000ff" text-anchor="middle">00:00</text>
<text transform="translate(2318.00,1100.00)" font-size="38" fill="#0000ff" text-anchor="middle">12:00</text>
<text transform="translate(2454.50,1100.00)" font-size="38" fill="#0000ff" text-anchor="middle">00:00</text>
<text transform="translate(2184.20,832.60) scale(0.95,1.04)" font-size="41.8" fill="#0000ff" text-anchor="start">D3</text>
</g>
<text transform="translate(32.20,161.75) rotate(-90) scale(0.9695,1.04)" font-size="41.8" fill="#000000" text-anchor="middle">Energy/GW</text>
<text transform="translate(31.00,425.50) rotate(-90) scale(0.9695,1.04)" font-size="41.8" fill="#000000" text-anchor="middle">Energy/GW</text>
<text transform="translate(29.50,689.75) rotate(-90) scale(0.9695,1.04)" font-size="41.8" fill="#000000" text-anchor="middle">Energy/GW</text>
<text transform="translate(32.20,952.75) rotate(-90) scale(0.9695,1.04)" font-size="41.8" fill="#000000" text-anchor="middle">Energy/GW</text>
<text transform="translate(891.30,1152.50) scale(0.989,1.04)" font-size="41.8" fill="#000000" text-anchor="middle">Time(Day)</text>
<text transform="translate(1921.00,1152.50) scale(0.99,1.04)" font-size="41.8" fill="#ff0000" text-anchor="middle">Time(Hour)</text>
<text transform="translate(2316.00,1152.50) scale(0.99,1.04)" font-size="41.8" fill="#0000ff" text-anchor="middle">Time(Hour)</text>
</svg>
</body></html>
